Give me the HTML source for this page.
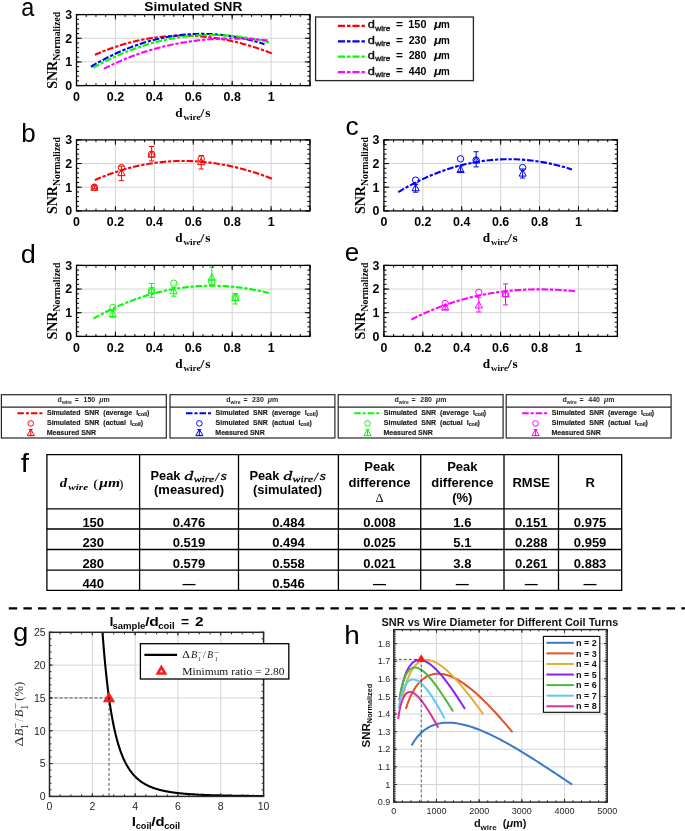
<!DOCTYPE html>
<html><head><meta charset="utf-8"><style>
html,body{margin:0;padding:0;background:#fff;width:685px;height:831px;overflow:hidden;position:relative;font-family:"Liberation Sans",sans-serif}
svg{filter:blur(0.3px)}
</style></head><body>
<svg width="685" height="831" viewBox="0 0 685 831" style="position:absolute;left:0;top:0">
<line x1="115.42" y1="14.6" x2="115.42" y2="85.6" stroke="#d4d4d4" stroke-width="1"/>
<line x1="154.33" y1="14.6" x2="154.33" y2="85.6" stroke="#d4d4d4" stroke-width="1"/>
<line x1="193.25" y1="14.6" x2="193.25" y2="85.6" stroke="#d4d4d4" stroke-width="1"/>
<line x1="232.17" y1="14.6" x2="232.17" y2="85.6" stroke="#d4d4d4" stroke-width="1"/>
<line x1="271.08" y1="14.6" x2="271.08" y2="85.6" stroke="#d4d4d4" stroke-width="1"/>
<line x1="76.5" y1="61.93" x2="310" y2="61.93" stroke="#d4d4d4" stroke-width="1"/>
<line x1="76.5" y1="38.27" x2="310" y2="38.27" stroke="#d4d4d4" stroke-width="1"/>
<path d="M94.79 54.85 L97.82 53.53 L100.85 52.26 L103.88 51.04 L106.91 49.87 L109.95 48.75 L112.98 47.67 L116.01 46.64 L119.04 45.66 L122.07 44.72 L125.1 43.84 L128.13 43 L131.16 42.2 L134.19 41.45 L137.22 40.75 L140.25 40.1 L143.28 39.49 L146.32 38.92 L149.35 38.41 L152.38 37.93 L155.41 37.51 L158.44 37.12 L161.47 36.79 L164.5 36.49 L167.53 36.24 L170.56 36.04 L173.59 35.88 L176.62 35.76 L179.66 35.69 L182.69 35.66 L185.72 35.67 L188.75 35.73 L191.78 35.83 L194.81 35.97 L197.84 36.16 L200.87 36.38 L203.9 36.65 L206.93 36.96 L209.96 37.32 L213 37.71 L216.03 38.15 L219.06 38.62 L222.09 39.14 L225.12 39.7 L228.15 40.3 L231.18 40.94 L234.21 41.62 L237.24 42.34 L240.27 43.1 L243.3 43.9 L246.33 44.74 L249.37 45.62 L252.4 46.54 L255.43 47.49 L258.46 48.49 L261.49 49.52 L264.52 50.6 L267.55 51.71 L270.58 52.86 L273.61 54.04" fill="none" stroke="#ff0000" stroke-width="2.1" stroke-dasharray="6.6 1.8 3.3 1.8"/>
<path d="M90.9 66.74 L93.84 65 L96.78 63.3 L99.72 61.66 L102.67 60.06 L105.61 58.52 L108.55 57.02 L111.49 55.57 L114.43 54.16 L117.38 52.8 L120.32 51.5 L123.26 50.24 L126.2 49.02 L129.14 47.86 L132.08 46.74 L135.03 45.67 L137.97 44.64 L140.91 43.67 L143.85 42.74 L146.79 41.85 L149.74 41.02 L152.68 40.23 L155.62 39.49 L158.56 38.79 L161.5 38.14 L164.45 37.54 L167.39 36.98 L170.33 36.47 L173.27 36.01 L176.21 35.59 L179.15 35.22 L182.1 34.89 L185.04 34.62 L187.98 34.38 L190.92 34.19 L193.86 34.05 L196.81 33.96 L199.75 33.9 L202.69 33.9 L205.63 33.94 L208.57 34.02 L211.51 34.15 L214.46 34.33 L217.4 34.55 L220.34 34.82 L223.28 35.13 L226.22 35.48 L229.17 35.88 L232.11 36.33 L235.05 36.82 L237.99 37.35 L240.93 37.93 L243.87 38.55 L246.82 39.22 L249.76 39.93 L252.7 40.68 L255.64 41.48 L258.58 42.32 L261.53 43.21 L264.47 44.14" fill="none" stroke="#0000ff" stroke-width="2.1" stroke-dasharray="6.6 1.8 3.3 1.8"/>
<path d="M93.43 67.81 L96.42 66.14 L99.4 64.51 L102.39 62.94 L105.38 61.4 L108.37 59.91 L111.36 58.47 L114.34 57.07 L117.33 55.71 L120.32 54.4 L123.31 53.13 L126.3 51.9 L129.28 50.72 L132.27 49.59 L135.26 48.49 L138.25 47.44 L141.24 46.43 L144.22 45.47 L147.21 44.55 L150.2 43.67 L153.19 42.83 L156.18 42.04 L159.16 41.29 L162.15 40.58 L165.14 39.92 L168.13 39.29 L171.12 38.71 L174.1 38.17 L177.09 37.68 L180.08 37.22 L183.07 36.81 L186.06 36.44 L189.05 36.1 L192.03 35.82 L195.02 35.57 L198.01 35.36 L201 35.2 L203.99 35.07 L206.97 34.99 L209.96 34.94 L212.95 34.94 L215.94 34.98 L218.93 35.06 L221.91 35.18 L224.9 35.33 L227.89 35.53 L230.88 35.77 L233.87 36.05 L236.85 36.37 L239.84 36.73 L242.83 37.12 L245.82 37.56 L248.81 38.04 L251.79 38.55 L254.78 39.11 L257.77 39.7 L260.76 40.33 L263.75 41 L266.73 41.71 L269.72 42.46" fill="none" stroke="#00ff00" stroke-width="2.1" stroke-dasharray="6.6 1.8 3.3 1.8"/>
<path d="M103.94 68.77 L106.74 67.36 L109.54 65.99 L112.34 64.65 L115.14 63.35 L117.94 62.09 L120.74 60.87 L123.54 59.68 L126.34 58.53 L129.14 57.42 L131.94 56.34 L134.74 55.29 L137.54 54.28 L140.34 53.31 L143.14 52.37 L145.94 51.47 L148.74 50.59 L151.54 49.76 L154.34 48.95 L157.14 48.18 L159.94 47.44 L162.74 46.73 L165.54 46.05 L168.34 45.41 L171.14 44.8 L173.94 44.21 L176.74 43.66 L179.54 43.14 L182.34 42.65 L185.14 42.19 L187.94 41.76 L190.74 41.35 L193.54 40.98 L196.34 40.63 L199.14 40.31 L201.94 40.02 L204.74 39.76 L207.54 39.52 L210.34 39.31 L213.14 39.13 L215.94 38.98 L218.74 38.84 L221.54 38.74 L224.34 38.66 L227.14 38.6 L229.94 38.57 L232.74 38.57 L235.54 38.58 L238.34 38.63 L241.14 38.69 L243.94 38.78 L246.74 38.89 L249.54 39.02 L252.34 39.17 L255.14 39.35 L257.94 39.55 L260.74 39.77 L263.54 40.01 L266.34 40.27 L269.14 40.55" fill="none" stroke="#ff00ff" stroke-width="2.1" stroke-dasharray="6.6 1.8 3.3 1.8"/>
<path d="M76.5 85.6v-2.3 M76.5 14.6v2.3 M86.23 85.6v-2.3 M86.23 14.6v2.3 M95.96 85.6v-2.3 M95.96 14.6v2.3 M105.69 85.6v-2.3 M105.69 14.6v2.3 M115.42 85.6v-2.3 M115.42 14.6v2.3 M125.15 85.6v-2.3 M125.15 14.6v2.3 M134.88 85.6v-2.3 M134.88 14.6v2.3 M144.6 85.6v-2.3 M144.6 14.6v2.3 M154.33 85.6v-2.3 M154.33 14.6v2.3 M164.06 85.6v-2.3 M164.06 14.6v2.3 M173.79 85.6v-2.3 M173.79 14.6v2.3 M183.52 85.6v-2.3 M183.52 14.6v2.3 M193.25 85.6v-2.3 M193.25 14.6v2.3 M202.98 85.6v-2.3 M202.98 14.6v2.3 M212.71 85.6v-2.3 M212.71 14.6v2.3 M222.44 85.6v-2.3 M222.44 14.6v2.3 M232.17 85.6v-2.3 M232.17 14.6v2.3 M241.9 85.6v-2.3 M241.9 14.6v2.3 M251.62 85.6v-2.3 M251.62 14.6v2.3 M261.35 85.6v-2.3 M261.35 14.6v2.3 M271.08 85.6v-2.3 M271.08 14.6v2.3 M280.81 85.6v-2.3 M280.81 14.6v2.3 M290.54 85.6v-2.3 M290.54 14.6v2.3 M300.27 85.6v-2.3 M300.27 14.6v2.3 M310 85.6v-2.3 M310 14.6v2.3 M76.5 85.6v-4.8 M76.5 14.6v4.8 M115.42 85.6v-4.8 M115.42 14.6v4.8 M154.33 85.6v-4.8 M154.33 14.6v4.8 M193.25 85.6v-4.8 M193.25 14.6v4.8 M232.17 85.6v-4.8 M232.17 14.6v4.8 M271.08 85.6v-4.8 M271.08 14.6v4.8 M310 85.6v-4.8 M310 14.6v4.8 M76.5 85.6h2.6 M310 85.6h-2.6 M76.5 80.87h2.6 M310 80.87h-2.6 M76.5 76.13h2.6 M310 76.13h-2.6 M76.5 71.4h2.6 M310 71.4h-2.6 M76.5 66.67h2.6 M310 66.67h-2.6 M76.5 61.93h2.6 M310 61.93h-2.6 M76.5 57.2h2.6 M310 57.2h-2.6 M76.5 52.47h2.6 M310 52.47h-2.6 M76.5 47.73h2.6 M310 47.73h-2.6 M76.5 43h2.6 M310 43h-2.6 M76.5 38.27h2.6 M310 38.27h-2.6 M76.5 33.53h2.6 M310 33.53h-2.6 M76.5 28.8h2.6 M310 28.8h-2.6 M76.5 24.07h2.6 M310 24.07h-2.6 M76.5 19.33h2.6 M310 19.33h-2.6 M76.5 14.6h2.6 M310 14.6h-2.6 M76.5 85.6h5.2 M310 85.6h-5.2 M76.5 61.93h5.2 M310 61.93h-5.2 M76.5 38.27h5.2 M310 38.27h-5.2 M76.5 14.6h5.2 M310 14.6h-5.2" stroke="#000" stroke-width="1" fill="none"/>
<rect x="76.5" y="14.6" width="233.5" height="71" fill="none" stroke="#000" stroke-width="1.3"/>
<text x="76.5" y="101" font-size="12.4" font-weight="bold" text-anchor="middle" font-family='"Liberation Sans", sans-serif'>0</text>
<text x="115.42" y="101" font-size="12.4" font-weight="bold" text-anchor="middle" font-family='"Liberation Sans", sans-serif'>0.2</text>
<text x="154.33" y="101" font-size="12.4" font-weight="bold" text-anchor="middle" font-family='"Liberation Sans", sans-serif'>0.4</text>
<text x="193.25" y="101" font-size="12.4" font-weight="bold" text-anchor="middle" font-family='"Liberation Sans", sans-serif'>0.6</text>
<text x="232.17" y="101" font-size="12.4" font-weight="bold" text-anchor="middle" font-family='"Liberation Sans", sans-serif'>0.8</text>
<text x="271.08" y="101" font-size="12.4" font-weight="bold" text-anchor="middle" font-family='"Liberation Sans", sans-serif'>1</text>
<text x="72.05" y="90" font-size="12.4" font-weight="bold" text-anchor="end" font-family='"Liberation Sans", sans-serif'>0</text>
<text x="72.05" y="66.33" font-size="12.4" font-weight="bold" text-anchor="end" font-family='"Liberation Sans", sans-serif'>1</text>
<text x="72.05" y="42.67" font-size="12.4" font-weight="bold" text-anchor="end" font-family='"Liberation Sans", sans-serif'>2</text>
<text x="72.05" y="19" font-size="12.4" font-weight="bold" text-anchor="end" font-family='"Liberation Sans", sans-serif'>3</text>
<text transform="translate(175.37 117) scale(1.050 1)" font-size="12.6" font-weight="bold" font-family='"Liberation Serif", serif'>d</text>
<text transform="translate(183.48 119.7) scale(0.992 1)" font-size="9.2" font-weight="bold" font-family='"Liberation Serif", serif'>wire</text>
<text transform="translate(200.35 117) scale(1.174 1)" font-size="12.6" font-weight="bold" font-family='"Liberation Serif", serif'>/</text>
<text transform="translate(205.2 117) scale(1.066 1)" font-size="12.6" font-weight="bold" font-family='"Liberation Serif", serif'>s</text>
<text transform="translate(57.2 50.3) rotate(-90)" font-size="14" font-weight="bold" text-anchor="middle" font-family='"Liberation Serif", serif'>SNR<tspan font-size="9.8" dy="3">Normalized</tspan></text>
<text transform="translate(144.29 10.9) scale(1.006 1)" font-size="13.6" font-weight="bold" font-family='"Liberation Sans", sans-serif'>Simulated SNR</text>
<rect x="315.6" y="17" width="157.8" height="63.6" fill="#fff" stroke="#262626" stroke-width="1.3"/>
<line x1="337.9" y1="25.9" x2="364.9" y2="25.9" stroke="#ff0000" stroke-width="2.2" stroke-dasharray="7.2 1.9 3.5 1.9"/>
<g stroke="#111" stroke-width="0.35">
<text transform="translate(367.75 28.4) scale(1.289 1)" font-size="10" fill="#111" font-family='"Liberation Sans", sans-serif'>d</text>
<text transform="translate(375.3 30.5) scale(1.046 1)" font-size="7.8" fill="#111" font-family='"Liberation Sans", sans-serif'>wire</text>
</g>
<text transform="translate(395.9 28.1) scale(1.073 1)" font-size="11" font-weight="bold" font-family='"Liberation Sans", sans-serif'>=</text>
<text transform="translate(408.32 28.4) scale(0.997 1)" font-size="10.9" font-weight="bold" font-family='"Liberation Sans", sans-serif'>150</text>
<text transform="translate(433.88 28.4) scale(1.149 1)" font-size="10.8" font-weight="bold" font-style="italic" font-family='"Liberation Sans", sans-serif'>μ</text>
<text transform="translate(440.96 28.4) scale(0.911 1)" font-size="10.8" font-weight="bold" font-family='"Liberation Sans", sans-serif'>m</text>
<line x1="337.9" y1="41.3" x2="364.9" y2="41.3" stroke="#0000ff" stroke-width="2.2" stroke-dasharray="7.2 1.9 3.5 1.9"/>
<g stroke="#111" stroke-width="0.35">
<text transform="translate(367.75 43.8) scale(1.289 1)" font-size="10" fill="#111" font-family='"Liberation Sans", sans-serif'>d</text>
<text transform="translate(375.3 45.9) scale(1.046 1)" font-size="7.8" fill="#111" font-family='"Liberation Sans", sans-serif'>wire</text>
</g>
<text transform="translate(395.9 43.5) scale(1.073 1)" font-size="11" font-weight="bold" font-family='"Liberation Sans", sans-serif'>=</text>
<text transform="translate(408.63 43.8) scale(0.979 1)" font-size="10.9" font-weight="bold" font-family='"Liberation Sans", sans-serif'>230</text>
<text transform="translate(433.88 43.8) scale(1.149 1)" font-size="10.8" font-weight="bold" font-style="italic" font-family='"Liberation Sans", sans-serif'>μ</text>
<text transform="translate(440.96 43.8) scale(0.911 1)" font-size="10.8" font-weight="bold" font-family='"Liberation Sans", sans-serif'>m</text>
<line x1="337.9" y1="56.7" x2="364.9" y2="56.7" stroke="#00ff00" stroke-width="2.2" stroke-dasharray="7.2 1.9 3.5 1.9"/>
<g stroke="#111" stroke-width="0.35">
<text transform="translate(367.75 59.2) scale(1.289 1)" font-size="10" fill="#111" font-family='"Liberation Sans", sans-serif'>d</text>
<text transform="translate(375.3 61.3) scale(1.046 1)" font-size="7.8" fill="#111" font-family='"Liberation Sans", sans-serif'>wire</text>
</g>
<text transform="translate(395.9 58.9) scale(1.073 1)" font-size="11" font-weight="bold" font-family='"Liberation Sans", sans-serif'>=</text>
<text transform="translate(408.63 59.2) scale(0.979 1)" font-size="10.9" font-weight="bold" font-family='"Liberation Sans", sans-serif'>280</text>
<text transform="translate(433.88 59.2) scale(1.149 1)" font-size="10.8" font-weight="bold" font-style="italic" font-family='"Liberation Sans", sans-serif'>μ</text>
<text transform="translate(440.96 59.2) scale(0.911 1)" font-size="10.8" font-weight="bold" font-family='"Liberation Sans", sans-serif'>m</text>
<line x1="337.9" y1="72.1" x2="364.9" y2="72.1" stroke="#ff00ff" stroke-width="2.2" stroke-dasharray="7.2 1.9 3.5 1.9"/>
<g stroke="#111" stroke-width="0.35">
<text transform="translate(367.75 74.6) scale(1.289 1)" font-size="10" fill="#111" font-family='"Liberation Sans", sans-serif'>d</text>
<text transform="translate(375.3 76.7) scale(1.046 1)" font-size="7.8" fill="#111" font-family='"Liberation Sans", sans-serif'>wire</text>
</g>
<text transform="translate(395.9 74.3) scale(1.073 1)" font-size="11" font-weight="bold" font-family='"Liberation Sans", sans-serif'>=</text>
<text transform="translate(408.84 74.6) scale(0.967 1)" font-size="10.9" font-weight="bold" font-family='"Liberation Sans", sans-serif'>440</text>
<text transform="translate(433.88 74.6) scale(1.149 1)" font-size="10.8" font-weight="bold" font-style="italic" font-family='"Liberation Sans", sans-serif'>μ</text>
<text transform="translate(440.96 74.6) scale(0.911 1)" font-size="10.8" font-weight="bold" font-family='"Liberation Sans", sans-serif'>m</text>
<line x1="115.42" y1="139.9" x2="115.42" y2="210.9" stroke="#d4d4d4" stroke-width="1"/>
<line x1="154.33" y1="139.9" x2="154.33" y2="210.9" stroke="#d4d4d4" stroke-width="1"/>
<line x1="193.25" y1="139.9" x2="193.25" y2="210.9" stroke="#d4d4d4" stroke-width="1"/>
<line x1="232.17" y1="139.9" x2="232.17" y2="210.9" stroke="#d4d4d4" stroke-width="1"/>
<line x1="271.08" y1="139.9" x2="271.08" y2="210.9" stroke="#d4d4d4" stroke-width="1"/>
<line x1="76.5" y1="187.23" x2="310" y2="187.23" stroke="#d4d4d4" stroke-width="1"/>
<line x1="76.5" y1="163.57" x2="310" y2="163.57" stroke="#d4d4d4" stroke-width="1"/>
<path d="M94.79 180.15 L97.82 178.83 L100.85 177.56 L103.88 176.34 L106.91 175.17 L109.95 174.05 L112.98 172.97 L116.01 171.94 L119.04 170.96 L122.07 170.02 L125.1 169.14 L128.13 168.3 L131.16 167.5 L134.19 166.75 L137.22 166.05 L140.25 165.4 L143.28 164.79 L146.32 164.22 L149.35 163.71 L152.38 163.23 L155.41 162.81 L158.44 162.42 L161.47 162.09 L164.5 161.79 L167.53 161.54 L170.56 161.34 L173.59 161.18 L176.62 161.06 L179.66 160.99 L182.69 160.96 L185.72 160.97 L188.75 161.03 L191.78 161.13 L194.81 161.27 L197.84 161.46 L200.87 161.68 L203.9 161.95 L206.93 162.26 L209.96 162.62 L213 163.01 L216.03 163.45 L219.06 163.92 L222.09 164.44 L225.12 165 L228.15 165.6 L231.18 166.24 L234.21 166.92 L237.24 167.64 L240.27 168.4 L243.3 169.2 L246.33 170.04 L249.37 170.92 L252.4 171.84 L255.43 172.79 L258.46 173.79 L261.49 174.82 L264.52 175.9 L267.55 177.01 L270.58 178.16 L273.61 179.34" fill="none" stroke="#ff0000" stroke-width="2.1" stroke-dasharray="6.6 1.8 3.3 1.8"/>
<path d="M94.4 185.81V188.65 M91.8 185.81h5.2 M91.8 188.65h5.2" stroke="#ff0000" stroke-width="1" fill="none"/>
<circle cx="94.4" cy="187.23" r="3.2" fill="none" stroke="#ff0000" stroke-width="1"/>
<path d="M94.4 183.81 L90.8 190.29 L98 190.29 Z" fill="none" stroke="#ff0000" stroke-width="1"/>
<path d="M121.45 166.17V180.61 M118.85 166.17h5.2 M118.85 180.61h5.2" stroke="#ff0000" stroke-width="1" fill="none"/>
<circle cx="121.45" cy="167.59" r="3.2" fill="none" stroke="#ff0000" stroke-width="1"/>
<path d="M121.45 169.14 L117.85 175.62 L125.05 175.62 Z" fill="none" stroke="#ff0000" stroke-width="1"/>
<path d="M151.61 146.53V160.96 M149.01 146.53h5.2 M149.01 160.96h5.2" stroke="#ff0000" stroke-width="1" fill="none"/>
<circle cx="151.61" cy="154.1" r="3.2" fill="none" stroke="#ff0000" stroke-width="1"/>
<path d="M151.61 150.68 L148.01 157.16 L155.21 157.16 Z" fill="none" stroke="#ff0000" stroke-width="1"/>
<path d="M201.23 155.52V169.01 M198.63 155.52h5.2 M198.63 169.01h5.2" stroke="#ff0000" stroke-width="1" fill="none"/>
<circle cx="201.23" cy="158.83" r="3.2" fill="none" stroke="#ff0000" stroke-width="1"/>
<path d="M201.23 158.25 L197.63 164.73 L204.83 164.73 Z" fill="none" stroke="#ff0000" stroke-width="1"/>
<path d="M76.5 210.9v-2.3 M76.5 139.9v2.3 M86.23 210.9v-2.3 M86.23 139.9v2.3 M95.96 210.9v-2.3 M95.96 139.9v2.3 M105.69 210.9v-2.3 M105.69 139.9v2.3 M115.42 210.9v-2.3 M115.42 139.9v2.3 M125.15 210.9v-2.3 M125.15 139.9v2.3 M134.88 210.9v-2.3 M134.88 139.9v2.3 M144.6 210.9v-2.3 M144.6 139.9v2.3 M154.33 210.9v-2.3 M154.33 139.9v2.3 M164.06 210.9v-2.3 M164.06 139.9v2.3 M173.79 210.9v-2.3 M173.79 139.9v2.3 M183.52 210.9v-2.3 M183.52 139.9v2.3 M193.25 210.9v-2.3 M193.25 139.9v2.3 M202.98 210.9v-2.3 M202.98 139.9v2.3 M212.71 210.9v-2.3 M212.71 139.9v2.3 M222.44 210.9v-2.3 M222.44 139.9v2.3 M232.17 210.9v-2.3 M232.17 139.9v2.3 M241.9 210.9v-2.3 M241.9 139.9v2.3 M251.62 210.9v-2.3 M251.62 139.9v2.3 M261.35 210.9v-2.3 M261.35 139.9v2.3 M271.08 210.9v-2.3 M271.08 139.9v2.3 M280.81 210.9v-2.3 M280.81 139.9v2.3 M290.54 210.9v-2.3 M290.54 139.9v2.3 M300.27 210.9v-2.3 M300.27 139.9v2.3 M310 210.9v-2.3 M310 139.9v2.3 M76.5 210.9v-4.8 M76.5 139.9v4.8 M115.42 210.9v-4.8 M115.42 139.9v4.8 M154.33 210.9v-4.8 M154.33 139.9v4.8 M193.25 210.9v-4.8 M193.25 139.9v4.8 M232.17 210.9v-4.8 M232.17 139.9v4.8 M271.08 210.9v-4.8 M271.08 139.9v4.8 M310 210.9v-4.8 M310 139.9v4.8 M76.5 210.9h2.6 M310 210.9h-2.6 M76.5 206.17h2.6 M310 206.17h-2.6 M76.5 201.43h2.6 M310 201.43h-2.6 M76.5 196.7h2.6 M310 196.7h-2.6 M76.5 191.97h2.6 M310 191.97h-2.6 M76.5 187.23h2.6 M310 187.23h-2.6 M76.5 182.5h2.6 M310 182.5h-2.6 M76.5 177.77h2.6 M310 177.77h-2.6 M76.5 173.03h2.6 M310 173.03h-2.6 M76.5 168.3h2.6 M310 168.3h-2.6 M76.5 163.57h2.6 M310 163.57h-2.6 M76.5 158.83h2.6 M310 158.83h-2.6 M76.5 154.1h2.6 M310 154.1h-2.6 M76.5 149.37h2.6 M310 149.37h-2.6 M76.5 144.63h2.6 M310 144.63h-2.6 M76.5 139.9h2.6 M310 139.9h-2.6 M76.5 210.9h5.2 M310 210.9h-5.2 M76.5 187.23h5.2 M310 187.23h-5.2 M76.5 163.57h5.2 M310 163.57h-5.2 M76.5 139.9h5.2 M310 139.9h-5.2" stroke="#000" stroke-width="1" fill="none"/>
<rect x="76.5" y="139.9" width="233.5" height="71" fill="none" stroke="#000" stroke-width="1.3"/>
<text x="76.5" y="226.3" font-size="12.4" font-weight="bold" text-anchor="middle" font-family='"Liberation Sans", sans-serif'>0</text>
<text x="115.42" y="226.3" font-size="12.4" font-weight="bold" text-anchor="middle" font-family='"Liberation Sans", sans-serif'>0.2</text>
<text x="154.33" y="226.3" font-size="12.4" font-weight="bold" text-anchor="middle" font-family='"Liberation Sans", sans-serif'>0.4</text>
<text x="193.25" y="226.3" font-size="12.4" font-weight="bold" text-anchor="middle" font-family='"Liberation Sans", sans-serif'>0.6</text>
<text x="232.17" y="226.3" font-size="12.4" font-weight="bold" text-anchor="middle" font-family='"Liberation Sans", sans-serif'>0.8</text>
<text x="271.08" y="226.3" font-size="12.4" font-weight="bold" text-anchor="middle" font-family='"Liberation Sans", sans-serif'>1</text>
<text x="72.05" y="215.3" font-size="12.4" font-weight="bold" text-anchor="end" font-family='"Liberation Sans", sans-serif'>0</text>
<text x="72.05" y="191.63" font-size="12.4" font-weight="bold" text-anchor="end" font-family='"Liberation Sans", sans-serif'>1</text>
<text x="72.05" y="167.97" font-size="12.4" font-weight="bold" text-anchor="end" font-family='"Liberation Sans", sans-serif'>2</text>
<text x="72.05" y="144.3" font-size="12.4" font-weight="bold" text-anchor="end" font-family='"Liberation Sans", sans-serif'>3</text>
<text transform="translate(175.37 242.3) scale(1.050 1)" font-size="12.6" font-weight="bold" font-family='"Liberation Serif", serif'>d</text>
<text transform="translate(183.48 245) scale(0.992 1)" font-size="9.2" font-weight="bold" font-family='"Liberation Serif", serif'>wire</text>
<text transform="translate(200.35 242.3) scale(1.174 1)" font-size="12.6" font-weight="bold" font-family='"Liberation Serif", serif'>/</text>
<text transform="translate(205.2 242.3) scale(1.066 1)" font-size="12.6" font-weight="bold" font-family='"Liberation Serif", serif'>s</text>
<text transform="translate(57.2 175.6) rotate(-90)" font-size="14" font-weight="bold" text-anchor="middle" font-family='"Liberation Serif", serif'>SNR<tspan font-size="9.8" dy="3">Normalized</tspan></text>
<line x1="422.82" y1="139.9" x2="422.82" y2="210.9" stroke="#d4d4d4" stroke-width="1"/>
<line x1="461.73" y1="139.9" x2="461.73" y2="210.9" stroke="#d4d4d4" stroke-width="1"/>
<line x1="500.65" y1="139.9" x2="500.65" y2="210.9" stroke="#d4d4d4" stroke-width="1"/>
<line x1="539.57" y1="139.9" x2="539.57" y2="210.9" stroke="#d4d4d4" stroke-width="1"/>
<line x1="578.48" y1="139.9" x2="578.48" y2="210.9" stroke="#d4d4d4" stroke-width="1"/>
<line x1="383.9" y1="187.23" x2="617.4" y2="187.23" stroke="#d4d4d4" stroke-width="1"/>
<line x1="383.9" y1="163.57" x2="617.4" y2="163.57" stroke="#d4d4d4" stroke-width="1"/>
<path d="M398.3 192.04 L401.24 190.3 L404.18 188.6 L407.12 186.96 L410.07 185.36 L413.01 183.82 L415.95 182.32 L418.89 180.87 L421.83 179.46 L424.78 178.1 L427.72 176.8 L430.66 175.54 L433.6 174.32 L436.54 173.16 L439.48 172.04 L442.43 170.97 L445.37 169.94 L448.31 168.97 L451.25 168.04 L454.19 167.15 L457.14 166.32 L460.08 165.53 L463.02 164.79 L465.96 164.09 L468.9 163.44 L471.85 162.84 L474.79 162.28 L477.73 161.77 L480.67 161.31 L483.61 160.89 L486.55 160.52 L489.5 160.19 L492.44 159.92 L495.38 159.68 L498.32 159.49 L501.26 159.35 L504.21 159.26 L507.15 159.2 L510.09 159.2 L513.03 159.24 L515.97 159.32 L518.91 159.45 L521.86 159.63 L524.8 159.85 L527.74 160.12 L530.68 160.43 L533.62 160.78 L536.57 161.18 L539.51 161.63 L542.45 162.12 L545.39 162.65 L548.33 163.23 L551.27 163.85 L554.22 164.52 L557.16 165.23 L560.1 165.98 L563.04 166.78 L565.98 167.62 L568.93 168.51 L571.87 169.44" fill="none" stroke="#0000ff" stroke-width="2.1" stroke-dasharray="6.6 1.8 3.3 1.8"/>
<path d="M415.62 184.39V192.2 M413.02 184.39h5.2 M413.02 192.2h5.2" stroke="#0000ff" stroke-width="1" fill="none"/>
<circle cx="415.62" cy="180.13" r="3.2" fill="none" stroke="#0000ff" stroke-width="1"/>
<path d="M415.62 184.29 L412.02 190.77 L419.22 190.77 Z" fill="none" stroke="#0000ff" stroke-width="1"/>
<path d="M460.57 165.93V171.61 M457.97 165.93h5.2 M457.97 171.61h5.2" stroke="#0000ff" stroke-width="1" fill="none"/>
<circle cx="460.57" cy="158.83" r="3.2" fill="none" stroke="#0000ff" stroke-width="1"/>
<path d="M460.57 166.06 L456.97 172.54 L464.17 172.54 Z" fill="none" stroke="#0000ff" stroke-width="1"/>
<path d="M476.13 151.73V166.88 M473.53 151.73h5.2 M473.53 166.88h5.2" stroke="#0000ff" stroke-width="1" fill="none"/>
<circle cx="476.13" cy="160.02" r="3.2" fill="none" stroke="#0000ff" stroke-width="1"/>
<path d="M476.13 156.6 L472.53 163.08 L479.73 163.08 Z" fill="none" stroke="#0000ff" stroke-width="1"/>
<path d="M522.64 169.01V178 M520.04 169.01h5.2 M520.04 178h5.2" stroke="#0000ff" stroke-width="1" fill="none"/>
<circle cx="522.64" cy="167.59" r="3.2" fill="none" stroke="#0000ff" stroke-width="1"/>
<path d="M522.64 169.61 L519.04 176.09 L526.24 176.09 Z" fill="none" stroke="#0000ff" stroke-width="1"/>
<path d="M383.9 210.9v-2.3 M383.9 139.9v2.3 M393.63 210.9v-2.3 M393.63 139.9v2.3 M403.36 210.9v-2.3 M403.36 139.9v2.3 M413.09 210.9v-2.3 M413.09 139.9v2.3 M422.82 210.9v-2.3 M422.82 139.9v2.3 M432.55 210.9v-2.3 M432.55 139.9v2.3 M442.27 210.9v-2.3 M442.27 139.9v2.3 M452 210.9v-2.3 M452 139.9v2.3 M461.73 210.9v-2.3 M461.73 139.9v2.3 M471.46 210.9v-2.3 M471.46 139.9v2.3 M481.19 210.9v-2.3 M481.19 139.9v2.3 M490.92 210.9v-2.3 M490.92 139.9v2.3 M500.65 210.9v-2.3 M500.65 139.9v2.3 M510.38 210.9v-2.3 M510.38 139.9v2.3 M520.11 210.9v-2.3 M520.11 139.9v2.3 M529.84 210.9v-2.3 M529.84 139.9v2.3 M539.57 210.9v-2.3 M539.57 139.9v2.3 M549.3 210.9v-2.3 M549.3 139.9v2.3 M559.02 210.9v-2.3 M559.02 139.9v2.3 M568.75 210.9v-2.3 M568.75 139.9v2.3 M578.48 210.9v-2.3 M578.48 139.9v2.3 M588.21 210.9v-2.3 M588.21 139.9v2.3 M597.94 210.9v-2.3 M597.94 139.9v2.3 M607.67 210.9v-2.3 M607.67 139.9v2.3 M617.4 210.9v-2.3 M617.4 139.9v2.3 M383.9 210.9v-4.8 M383.9 139.9v4.8 M422.82 210.9v-4.8 M422.82 139.9v4.8 M461.73 210.9v-4.8 M461.73 139.9v4.8 M500.65 210.9v-4.8 M500.65 139.9v4.8 M539.57 210.9v-4.8 M539.57 139.9v4.8 M578.48 210.9v-4.8 M578.48 139.9v4.8 M617.4 210.9v-4.8 M617.4 139.9v4.8 M383.9 210.9h2.6 M617.4 210.9h-2.6 M383.9 206.17h2.6 M617.4 206.17h-2.6 M383.9 201.43h2.6 M617.4 201.43h-2.6 M383.9 196.7h2.6 M617.4 196.7h-2.6 M383.9 191.97h2.6 M617.4 191.97h-2.6 M383.9 187.23h2.6 M617.4 187.23h-2.6 M383.9 182.5h2.6 M617.4 182.5h-2.6 M383.9 177.77h2.6 M617.4 177.77h-2.6 M383.9 173.03h2.6 M617.4 173.03h-2.6 M383.9 168.3h2.6 M617.4 168.3h-2.6 M383.9 163.57h2.6 M617.4 163.57h-2.6 M383.9 158.83h2.6 M617.4 158.83h-2.6 M383.9 154.1h2.6 M617.4 154.1h-2.6 M383.9 149.37h2.6 M617.4 149.37h-2.6 M383.9 144.63h2.6 M617.4 144.63h-2.6 M383.9 139.9h2.6 M617.4 139.9h-2.6 M383.9 210.9h5.2 M617.4 210.9h-5.2 M383.9 187.23h5.2 M617.4 187.23h-5.2 M383.9 163.57h5.2 M617.4 163.57h-5.2 M383.9 139.9h5.2 M617.4 139.9h-5.2" stroke="#000" stroke-width="1" fill="none"/>
<rect x="383.9" y="139.9" width="233.5" height="71" fill="none" stroke="#000" stroke-width="1.3"/>
<text x="383.9" y="226.3" font-size="12.4" font-weight="bold" text-anchor="middle" font-family='"Liberation Sans", sans-serif'>0</text>
<text x="422.82" y="226.3" font-size="12.4" font-weight="bold" text-anchor="middle" font-family='"Liberation Sans", sans-serif'>0.2</text>
<text x="461.73" y="226.3" font-size="12.4" font-weight="bold" text-anchor="middle" font-family='"Liberation Sans", sans-serif'>0.4</text>
<text x="500.65" y="226.3" font-size="12.4" font-weight="bold" text-anchor="middle" font-family='"Liberation Sans", sans-serif'>0.6</text>
<text x="539.57" y="226.3" font-size="12.4" font-weight="bold" text-anchor="middle" font-family='"Liberation Sans", sans-serif'>0.8</text>
<text x="578.48" y="226.3" font-size="12.4" font-weight="bold" text-anchor="middle" font-family='"Liberation Sans", sans-serif'>1</text>
<text x="379.45" y="215.3" font-size="12.4" font-weight="bold" text-anchor="end" font-family='"Liberation Sans", sans-serif'>0</text>
<text x="379.45" y="191.63" font-size="12.4" font-weight="bold" text-anchor="end" font-family='"Liberation Sans", sans-serif'>1</text>
<text x="379.45" y="167.97" font-size="12.4" font-weight="bold" text-anchor="end" font-family='"Liberation Sans", sans-serif'>2</text>
<text x="379.45" y="144.3" font-size="12.4" font-weight="bold" text-anchor="end" font-family='"Liberation Sans", sans-serif'>3</text>
<text transform="translate(482.77 242.3) scale(1.050 1)" font-size="12.6" font-weight="bold" font-family='"Liberation Serif", serif'>d</text>
<text transform="translate(490.88 245) scale(0.992 1)" font-size="9.2" font-weight="bold" font-family='"Liberation Serif", serif'>wire</text>
<text transform="translate(507.75 242.3) scale(1.174 1)" font-size="12.6" font-weight="bold" font-family='"Liberation Serif", serif'>/</text>
<text transform="translate(512.6 242.3) scale(1.066 1)" font-size="12.6" font-weight="bold" font-family='"Liberation Serif", serif'>s</text>
<text transform="translate(364.6 175.6) rotate(-90)" font-size="14" font-weight="bold" text-anchor="middle" font-family='"Liberation Serif", serif'>SNR<tspan font-size="9.8" dy="3">Normalized</tspan></text>
<line x1="115.42" y1="265.4" x2="115.42" y2="336.4" stroke="#d4d4d4" stroke-width="1"/>
<line x1="154.33" y1="265.4" x2="154.33" y2="336.4" stroke="#d4d4d4" stroke-width="1"/>
<line x1="193.25" y1="265.4" x2="193.25" y2="336.4" stroke="#d4d4d4" stroke-width="1"/>
<line x1="232.17" y1="265.4" x2="232.17" y2="336.4" stroke="#d4d4d4" stroke-width="1"/>
<line x1="271.08" y1="265.4" x2="271.08" y2="336.4" stroke="#d4d4d4" stroke-width="1"/>
<line x1="76.5" y1="312.73" x2="310" y2="312.73" stroke="#d4d4d4" stroke-width="1"/>
<line x1="76.5" y1="289.07" x2="310" y2="289.07" stroke="#d4d4d4" stroke-width="1"/>
<path d="M93.43 318.61 L96.42 316.94 L99.4 315.31 L102.39 313.74 L105.38 312.2 L108.37 310.71 L111.36 309.27 L114.34 307.87 L117.33 306.51 L120.32 305.2 L123.31 303.93 L126.3 302.7 L129.28 301.52 L132.27 300.39 L135.26 299.29 L138.25 298.24 L141.24 297.23 L144.22 296.27 L147.21 295.35 L150.2 294.47 L153.19 293.63 L156.18 292.84 L159.16 292.09 L162.15 291.38 L165.14 290.72 L168.13 290.09 L171.12 289.51 L174.1 288.97 L177.09 288.48 L180.08 288.02 L183.07 287.61 L186.06 287.24 L189.05 286.9 L192.03 286.62 L195.02 286.37 L198.01 286.16 L201 286 L203.99 285.87 L206.97 285.79 L209.96 285.74 L212.95 285.74 L215.94 285.78 L218.93 285.86 L221.91 285.98 L224.9 286.13 L227.89 286.33 L230.88 286.57 L233.87 286.85 L236.85 287.17 L239.84 287.53 L242.83 287.92 L245.82 288.36 L248.81 288.84 L251.79 289.35 L254.78 289.91 L257.77 290.5 L260.76 291.13 L263.75 291.8 L266.73 292.51 L269.72 293.26" fill="none" stroke="#00ff00" stroke-width="2.1" stroke-dasharray="6.6 1.8 3.3 1.8"/>
<path d="M112.69 309.66V317.23 M110.09 309.66h5.2 M110.09 317.23h5.2" stroke="#00ff00" stroke-width="1" fill="none"/>
<circle cx="112.69" cy="307.53" r="3.2" fill="none" stroke="#00ff00" stroke-width="1"/>
<path d="M112.69 310.02 L109.09 316.5 L116.29 316.5 Z" fill="none" stroke="#00ff00" stroke-width="1"/>
<path d="M151.61 283.39V297.35 M149.01 283.39h5.2 M149.01 297.35h5.2" stroke="#00ff00" stroke-width="1" fill="none"/>
<circle cx="151.61" cy="290.25" r="3.2" fill="none" stroke="#00ff00" stroke-width="1"/>
<path d="M151.61 286.83 L148.01 293.31 L155.21 293.31 Z" fill="none" stroke="#00ff00" stroke-width="1"/>
<path d="M173.79 287.41V296.17 M171.19 287.41h5.2 M171.19 296.17h5.2" stroke="#00ff00" stroke-width="1" fill="none"/>
<circle cx="173.79" cy="283.15" r="3.2" fill="none" stroke="#00ff00" stroke-width="1"/>
<path d="M173.79 287.3 L170.19 293.78 L177.39 293.78 Z" fill="none" stroke="#00ff00" stroke-width="1"/>
<path d="M211.74 267.29V284.81 M209.14 267.29h5.2 M209.14 284.81h5.2" stroke="#00ff00" stroke-width="1" fill="none"/>
<circle cx="211.74" cy="281.97" r="3.2" fill="none" stroke="#00ff00" stroke-width="1"/>
<path d="M211.74 273.81 L208.14 280.29 L215.34 280.29 Z" fill="none" stroke="#00ff00" stroke-width="1"/>
<path d="M235.28 293.56V303.98 M232.68 293.56h5.2 M232.68 303.98h5.2" stroke="#00ff00" stroke-width="1" fill="none"/>
<circle cx="235.28" cy="297.35" r="3.2" fill="none" stroke="#00ff00" stroke-width="1"/>
<path d="M235.28 293.93 L231.68 300.41 L238.88 300.41 Z" fill="none" stroke="#00ff00" stroke-width="1"/>
<path d="M76.5 336.4v-2.3 M76.5 265.4v2.3 M86.23 336.4v-2.3 M86.23 265.4v2.3 M95.96 336.4v-2.3 M95.96 265.4v2.3 M105.69 336.4v-2.3 M105.69 265.4v2.3 M115.42 336.4v-2.3 M115.42 265.4v2.3 M125.15 336.4v-2.3 M125.15 265.4v2.3 M134.88 336.4v-2.3 M134.88 265.4v2.3 M144.6 336.4v-2.3 M144.6 265.4v2.3 M154.33 336.4v-2.3 M154.33 265.4v2.3 M164.06 336.4v-2.3 M164.06 265.4v2.3 M173.79 336.4v-2.3 M173.79 265.4v2.3 M183.52 336.4v-2.3 M183.52 265.4v2.3 M193.25 336.4v-2.3 M193.25 265.4v2.3 M202.98 336.4v-2.3 M202.98 265.4v2.3 M212.71 336.4v-2.3 M212.71 265.4v2.3 M222.44 336.4v-2.3 M222.44 265.4v2.3 M232.17 336.4v-2.3 M232.17 265.4v2.3 M241.9 336.4v-2.3 M241.9 265.4v2.3 M251.62 336.4v-2.3 M251.62 265.4v2.3 M261.35 336.4v-2.3 M261.35 265.4v2.3 M271.08 336.4v-2.3 M271.08 265.4v2.3 M280.81 336.4v-2.3 M280.81 265.4v2.3 M290.54 336.4v-2.3 M290.54 265.4v2.3 M300.27 336.4v-2.3 M300.27 265.4v2.3 M310 336.4v-2.3 M310 265.4v2.3 M76.5 336.4v-4.8 M76.5 265.4v4.8 M115.42 336.4v-4.8 M115.42 265.4v4.8 M154.33 336.4v-4.8 M154.33 265.4v4.8 M193.25 336.4v-4.8 M193.25 265.4v4.8 M232.17 336.4v-4.8 M232.17 265.4v4.8 M271.08 336.4v-4.8 M271.08 265.4v4.8 M310 336.4v-4.8 M310 265.4v4.8 M76.5 336.4h2.6 M310 336.4h-2.6 M76.5 331.67h2.6 M310 331.67h-2.6 M76.5 326.93h2.6 M310 326.93h-2.6 M76.5 322.2h2.6 M310 322.2h-2.6 M76.5 317.47h2.6 M310 317.47h-2.6 M76.5 312.73h2.6 M310 312.73h-2.6 M76.5 308h2.6 M310 308h-2.6 M76.5 303.27h2.6 M310 303.27h-2.6 M76.5 298.53h2.6 M310 298.53h-2.6 M76.5 293.8h2.6 M310 293.8h-2.6 M76.5 289.07h2.6 M310 289.07h-2.6 M76.5 284.33h2.6 M310 284.33h-2.6 M76.5 279.6h2.6 M310 279.6h-2.6 M76.5 274.87h2.6 M310 274.87h-2.6 M76.5 270.13h2.6 M310 270.13h-2.6 M76.5 265.4h2.6 M310 265.4h-2.6 M76.5 336.4h5.2 M310 336.4h-5.2 M76.5 312.73h5.2 M310 312.73h-5.2 M76.5 289.07h5.2 M310 289.07h-5.2 M76.5 265.4h5.2 M310 265.4h-5.2" stroke="#000" stroke-width="1" fill="none"/>
<rect x="76.5" y="265.4" width="233.5" height="71" fill="none" stroke="#000" stroke-width="1.3"/>
<text x="76.5" y="351.8" font-size="12.4" font-weight="bold" text-anchor="middle" font-family='"Liberation Sans", sans-serif'>0</text>
<text x="115.42" y="351.8" font-size="12.4" font-weight="bold" text-anchor="middle" font-family='"Liberation Sans", sans-serif'>0.2</text>
<text x="154.33" y="351.8" font-size="12.4" font-weight="bold" text-anchor="middle" font-family='"Liberation Sans", sans-serif'>0.4</text>
<text x="193.25" y="351.8" font-size="12.4" font-weight="bold" text-anchor="middle" font-family='"Liberation Sans", sans-serif'>0.6</text>
<text x="232.17" y="351.8" font-size="12.4" font-weight="bold" text-anchor="middle" font-family='"Liberation Sans", sans-serif'>0.8</text>
<text x="271.08" y="351.8" font-size="12.4" font-weight="bold" text-anchor="middle" font-family='"Liberation Sans", sans-serif'>1</text>
<text x="72.05" y="340.8" font-size="12.4" font-weight="bold" text-anchor="end" font-family='"Liberation Sans", sans-serif'>0</text>
<text x="72.05" y="317.13" font-size="12.4" font-weight="bold" text-anchor="end" font-family='"Liberation Sans", sans-serif'>1</text>
<text x="72.05" y="293.47" font-size="12.4" font-weight="bold" text-anchor="end" font-family='"Liberation Sans", sans-serif'>2</text>
<text x="72.05" y="269.8" font-size="12.4" font-weight="bold" text-anchor="end" font-family='"Liberation Sans", sans-serif'>3</text>
<text transform="translate(175.37 367.8) scale(1.050 1)" font-size="12.6" font-weight="bold" font-family='"Liberation Serif", serif'>d</text>
<text transform="translate(183.48 370.5) scale(0.992 1)" font-size="9.2" font-weight="bold" font-family='"Liberation Serif", serif'>wire</text>
<text transform="translate(200.35 367.8) scale(1.174 1)" font-size="12.6" font-weight="bold" font-family='"Liberation Serif", serif'>/</text>
<text transform="translate(205.2 367.8) scale(1.066 1)" font-size="12.6" font-weight="bold" font-family='"Liberation Serif", serif'>s</text>
<text transform="translate(57.2 301.1) rotate(-90)" font-size="14" font-weight="bold" text-anchor="middle" font-family='"Liberation Serif", serif'>SNR<tspan font-size="9.8" dy="3">Normalized</tspan></text>
<line x1="422.82" y1="265.4" x2="422.82" y2="336.4" stroke="#d4d4d4" stroke-width="1"/>
<line x1="461.73" y1="265.4" x2="461.73" y2="336.4" stroke="#d4d4d4" stroke-width="1"/>
<line x1="500.65" y1="265.4" x2="500.65" y2="336.4" stroke="#d4d4d4" stroke-width="1"/>
<line x1="539.57" y1="265.4" x2="539.57" y2="336.4" stroke="#d4d4d4" stroke-width="1"/>
<line x1="578.48" y1="265.4" x2="578.48" y2="336.4" stroke="#d4d4d4" stroke-width="1"/>
<line x1="383.9" y1="312.73" x2="617.4" y2="312.73" stroke="#d4d4d4" stroke-width="1"/>
<line x1="383.9" y1="289.07" x2="617.4" y2="289.07" stroke="#d4d4d4" stroke-width="1"/>
<path d="M411.34 319.57 L414.14 318.16 L416.94 316.79 L419.74 315.45 L422.54 314.15 L425.34 312.89 L428.14 311.67 L430.94 310.48 L433.74 309.33 L436.54 308.22 L439.34 307.14 L442.14 306.09 L444.94 305.08 L447.74 304.11 L450.54 303.17 L453.34 302.27 L456.14 301.39 L458.94 300.56 L461.74 299.75 L464.54 298.98 L467.34 298.24 L470.14 297.53 L472.94 296.85 L475.74 296.21 L478.54 295.6 L481.34 295.01 L484.14 294.46 L486.94 293.94 L489.74 293.45 L492.54 292.99 L495.34 292.56 L498.14 292.15 L500.94 291.78 L503.74 291.43 L506.54 291.11 L509.34 290.82 L512.14 290.56 L514.94 290.32 L517.74 290.11 L520.54 289.93 L523.34 289.78 L526.14 289.64 L528.94 289.54 L531.74 289.46 L534.54 289.4 L537.34 289.37 L540.14 289.37 L542.94 289.38 L545.74 289.43 L548.54 289.49 L551.34 289.58 L554.14 289.69 L556.94 289.82 L559.74 289.97 L562.54 290.15 L565.34 290.35 L568.14 290.57 L570.94 290.81 L573.74 291.07 L576.54 291.35" fill="none" stroke="#ff00ff" stroke-width="2.1" stroke-dasharray="6.6 1.8 3.3 1.8"/>
<path d="M445.19 305.4V309.66 M442.59 305.4h5.2 M442.59 309.66h5.2" stroke="#ff00ff" stroke-width="1" fill="none"/>
<circle cx="445.19" cy="303.5" r="3.2" fill="none" stroke="#ff00ff" stroke-width="1"/>
<path d="M445.19 303.63 L441.59 310.11 L448.79 310.11 Z" fill="none" stroke="#ff00ff" stroke-width="1"/>
<path d="M478.86 297.35V312.02 M476.26 297.35h5.2 M476.26 312.02h5.2" stroke="#ff00ff" stroke-width="1" fill="none"/>
<circle cx="478.86" cy="292.38" r="3.2" fill="none" stroke="#ff00ff" stroke-width="1"/>
<path d="M478.86 301.5 L475.26 307.98 L482.46 307.98 Z" fill="none" stroke="#ff00ff" stroke-width="1"/>
<path d="M505.51 283.86V304.92 M502.91 283.86h5.2 M502.91 304.92h5.2" stroke="#ff00ff" stroke-width="1" fill="none"/>
<circle cx="505.51" cy="293.8" r="3.2" fill="none" stroke="#ff00ff" stroke-width="1"/>
<path d="M505.51 290.38 L501.91 296.86 L509.11 296.86 Z" fill="none" stroke="#ff00ff" stroke-width="1"/>
<path d="M383.9 336.4v-2.3 M383.9 265.4v2.3 M393.63 336.4v-2.3 M393.63 265.4v2.3 M403.36 336.4v-2.3 M403.36 265.4v2.3 M413.09 336.4v-2.3 M413.09 265.4v2.3 M422.82 336.4v-2.3 M422.82 265.4v2.3 M432.55 336.4v-2.3 M432.55 265.4v2.3 M442.27 336.4v-2.3 M442.27 265.4v2.3 M452 336.4v-2.3 M452 265.4v2.3 M461.73 336.4v-2.3 M461.73 265.4v2.3 M471.46 336.4v-2.3 M471.46 265.4v2.3 M481.19 336.4v-2.3 M481.19 265.4v2.3 M490.92 336.4v-2.3 M490.92 265.4v2.3 M500.65 336.4v-2.3 M500.65 265.4v2.3 M510.38 336.4v-2.3 M510.38 265.4v2.3 M520.11 336.4v-2.3 M520.11 265.4v2.3 M529.84 336.4v-2.3 M529.84 265.4v2.3 M539.57 336.4v-2.3 M539.57 265.4v2.3 M549.3 336.4v-2.3 M549.3 265.4v2.3 M559.02 336.4v-2.3 M559.02 265.4v2.3 M568.75 336.4v-2.3 M568.75 265.4v2.3 M578.48 336.4v-2.3 M578.48 265.4v2.3 M588.21 336.4v-2.3 M588.21 265.4v2.3 M597.94 336.4v-2.3 M597.94 265.4v2.3 M607.67 336.4v-2.3 M607.67 265.4v2.3 M617.4 336.4v-2.3 M617.4 265.4v2.3 M383.9 336.4v-4.8 M383.9 265.4v4.8 M422.82 336.4v-4.8 M422.82 265.4v4.8 M461.73 336.4v-4.8 M461.73 265.4v4.8 M500.65 336.4v-4.8 M500.65 265.4v4.8 M539.57 336.4v-4.8 M539.57 265.4v4.8 M578.48 336.4v-4.8 M578.48 265.4v4.8 M617.4 336.4v-4.8 M617.4 265.4v4.8 M383.9 336.4h2.6 M617.4 336.4h-2.6 M383.9 331.67h2.6 M617.4 331.67h-2.6 M383.9 326.93h2.6 M617.4 326.93h-2.6 M383.9 322.2h2.6 M617.4 322.2h-2.6 M383.9 317.47h2.6 M617.4 317.47h-2.6 M383.9 312.73h2.6 M617.4 312.73h-2.6 M383.9 308h2.6 M617.4 308h-2.6 M383.9 303.27h2.6 M617.4 303.27h-2.6 M383.9 298.53h2.6 M617.4 298.53h-2.6 M383.9 293.8h2.6 M617.4 293.8h-2.6 M383.9 289.07h2.6 M617.4 289.07h-2.6 M383.9 284.33h2.6 M617.4 284.33h-2.6 M383.9 279.6h2.6 M617.4 279.6h-2.6 M383.9 274.87h2.6 M617.4 274.87h-2.6 M383.9 270.13h2.6 M617.4 270.13h-2.6 M383.9 265.4h2.6 M617.4 265.4h-2.6 M383.9 336.4h5.2 M617.4 336.4h-5.2 M383.9 312.73h5.2 M617.4 312.73h-5.2 M383.9 289.07h5.2 M617.4 289.07h-5.2 M383.9 265.4h5.2 M617.4 265.4h-5.2" stroke="#000" stroke-width="1" fill="none"/>
<rect x="383.9" y="265.4" width="233.5" height="71" fill="none" stroke="#000" stroke-width="1.3"/>
<text x="383.9" y="351.8" font-size="12.4" font-weight="bold" text-anchor="middle" font-family='"Liberation Sans", sans-serif'>0</text>
<text x="422.82" y="351.8" font-size="12.4" font-weight="bold" text-anchor="middle" font-family='"Liberation Sans", sans-serif'>0.2</text>
<text x="461.73" y="351.8" font-size="12.4" font-weight="bold" text-anchor="middle" font-family='"Liberation Sans", sans-serif'>0.4</text>
<text x="500.65" y="351.8" font-size="12.4" font-weight="bold" text-anchor="middle" font-family='"Liberation Sans", sans-serif'>0.6</text>
<text x="539.57" y="351.8" font-size="12.4" font-weight="bold" text-anchor="middle" font-family='"Liberation Sans", sans-serif'>0.8</text>
<text x="578.48" y="351.8" font-size="12.4" font-weight="bold" text-anchor="middle" font-family='"Liberation Sans", sans-serif'>1</text>
<text x="379.45" y="340.8" font-size="12.4" font-weight="bold" text-anchor="end" font-family='"Liberation Sans", sans-serif'>0</text>
<text x="379.45" y="317.13" font-size="12.4" font-weight="bold" text-anchor="end" font-family='"Liberation Sans", sans-serif'>1</text>
<text x="379.45" y="293.47" font-size="12.4" font-weight="bold" text-anchor="end" font-family='"Liberation Sans", sans-serif'>2</text>
<text x="379.45" y="269.8" font-size="12.4" font-weight="bold" text-anchor="end" font-family='"Liberation Sans", sans-serif'>3</text>
<text transform="translate(482.77 367.8) scale(1.050 1)" font-size="12.6" font-weight="bold" font-family='"Liberation Serif", serif'>d</text>
<text transform="translate(490.88 370.5) scale(0.992 1)" font-size="9.2" font-weight="bold" font-family='"Liberation Serif", serif'>wire</text>
<text transform="translate(507.75 367.8) scale(1.174 1)" font-size="12.6" font-weight="bold" font-family='"Liberation Serif", serif'>/</text>
<text transform="translate(512.6 367.8) scale(1.066 1)" font-size="12.6" font-weight="bold" font-family='"Liberation Serif", serif'>s</text>
<text transform="translate(364.6 301.1) rotate(-90)" font-size="14" font-weight="bold" text-anchor="middle" font-family='"Liberation Serif", serif'>SNR<tspan font-size="9.8" dy="3">Normalized</tspan></text>
<rect x="1.4" y="394.7" width="164.9" height="43.3" fill="none" stroke="#262626" stroke-width="1.2"/>
<line x1="1.4" y1="407.2" x2="166.3" y2="407.2" stroke="#262626" stroke-width="1.2"/>
<text x="57.6" y="402.4" font-size="7" font-weight="bold" fill="#262626" font-family='"Liberation Sans", sans-serif'>d<tspan font-size="5" dy="1.5">wire</tspan></text>
<text x="74.8" y="402.4" font-size="7" font-weight="bold" fill="#262626" font-family='"Liberation Sans", sans-serif'>=</text>
<text x="83.5" y="402.4" font-size="7" font-weight="bold" fill="#262626" font-family='"Liberation Sans", sans-serif'>150</text>
<text x="99.2" y="402.4" font-size="7" font-weight="bold" fill="#262626" font-family='"Liberation Sans", sans-serif'><tspan font-style="italic">μ</tspan>m</text>
<line x1="17.4" y1="413.3" x2="44.2" y2="413.3" stroke="#ff0000" stroke-width="2" stroke-dasharray="6.5 2 3 2"/>
<circle cx="30.75" cy="423.4" r="2.8" fill="none" stroke="#ff0000" stroke-width="1"/>
<path d="M30.75 429.6V435.4 M28.75 429.6h4 M28.75 435.4h4" stroke="#ff0000" stroke-width="1" fill="none"/>
<path d="M30.75 429.18 L27.15 435.66 L34.35 435.66 Z" fill="none" stroke="#ff0000" stroke-width="1"/>
<text x="47" y="414.8" font-size="7" font-weight="bold" fill="#1a1a1a" font-family='"Liberation Sans", sans-serif' word-spacing="2.1" stroke="#1a1a1a" stroke-width="0.15">Simulated SNR (average I<tspan font-size="5.2" dy="1.5">coil</tspan><tspan dy="-1.5">)</tspan></text>
<text x="47" y="424.9" font-size="7" font-weight="bold" fill="#1a1a1a" font-family='"Liberation Sans", sans-serif' word-spacing="2.1" stroke="#1a1a1a" stroke-width="0.15">Simulated SNR (actual I<tspan font-size="5.2" dy="1.5">coil</tspan><tspan dy="-1.5">)</tspan></text>
<text x="46.7" y="435" font-size="7" font-weight="bold" fill="#1a1a1a" font-family='"Liberation Sans", sans-serif' stroke="#1a1a1a" stroke-width="0.15">Measured SNR</text>
<rect x="170" y="394.7" width="164.9" height="43.3" fill="none" stroke="#262626" stroke-width="1.2"/>
<line x1="170" y1="407.2" x2="334.9" y2="407.2" stroke="#262626" stroke-width="1.2"/>
<text x="226.2" y="402.4" font-size="7" font-weight="bold" fill="#262626" font-family='"Liberation Sans", sans-serif'>d<tspan font-size="5" dy="1.5">wire</tspan></text>
<text x="243.4" y="402.4" font-size="7" font-weight="bold" fill="#262626" font-family='"Liberation Sans", sans-serif'>=</text>
<text x="252.1" y="402.4" font-size="7" font-weight="bold" fill="#262626" font-family='"Liberation Sans", sans-serif'>230</text>
<text x="267.8" y="402.4" font-size="7" font-weight="bold" fill="#262626" font-family='"Liberation Sans", sans-serif'><tspan font-style="italic">μ</tspan>m</text>
<line x1="186" y1="413.3" x2="212.8" y2="413.3" stroke="#0000ff" stroke-width="2" stroke-dasharray="6.5 2 3 2"/>
<circle cx="199.35" cy="423.4" r="2.8" fill="none" stroke="#0000ff" stroke-width="1"/>
<path d="M199.35 429.6V435.4 M197.35 429.6h4 M197.35 435.4h4" stroke="#0000ff" stroke-width="1" fill="none"/>
<path d="M199.35 429.18 L195.75 435.66 L202.95 435.66 Z" fill="none" stroke="#0000ff" stroke-width="1"/>
<text x="215.6" y="414.8" font-size="7" font-weight="bold" fill="#1a1a1a" font-family='"Liberation Sans", sans-serif' word-spacing="2.1" stroke="#1a1a1a" stroke-width="0.15">Simulated SNR (average I<tspan font-size="5.2" dy="1.5">coil</tspan><tspan dy="-1.5">)</tspan></text>
<text x="215.6" y="424.9" font-size="7" font-weight="bold" fill="#1a1a1a" font-family='"Liberation Sans", sans-serif' word-spacing="2.1" stroke="#1a1a1a" stroke-width="0.15">Simulated SNR (actual I<tspan font-size="5.2" dy="1.5">coil</tspan><tspan dy="-1.5">)</tspan></text>
<text x="215.3" y="435" font-size="7" font-weight="bold" fill="#1a1a1a" font-family='"Liberation Sans", sans-serif' stroke="#1a1a1a" stroke-width="0.15">Measured SNR</text>
<rect x="338.2" y="394.7" width="164.9" height="43.3" fill="none" stroke="#262626" stroke-width="1.2"/>
<line x1="338.2" y1="407.2" x2="503.1" y2="407.2" stroke="#262626" stroke-width="1.2"/>
<text x="394.4" y="402.4" font-size="7" font-weight="bold" fill="#262626" font-family='"Liberation Sans", sans-serif'>d<tspan font-size="5" dy="1.5">wire</tspan></text>
<text x="411.6" y="402.4" font-size="7" font-weight="bold" fill="#262626" font-family='"Liberation Sans", sans-serif'>=</text>
<text x="420.3" y="402.4" font-size="7" font-weight="bold" fill="#262626" font-family='"Liberation Sans", sans-serif'>280</text>
<text x="436" y="402.4" font-size="7" font-weight="bold" fill="#262626" font-family='"Liberation Sans", sans-serif'><tspan font-style="italic">μ</tspan>m</text>
<line x1="354.2" y1="413.3" x2="381" y2="413.3" stroke="#00ff00" stroke-width="2" stroke-dasharray="6.5 2 3 2"/>
<circle cx="367.55" cy="423.4" r="2.8" fill="none" stroke="#00ff00" stroke-width="1"/>
<path d="M367.55 429.6V435.4 M365.55 429.6h4 M365.55 435.4h4" stroke="#00ff00" stroke-width="1" fill="none"/>
<path d="M367.55 429.18 L363.95 435.66 L371.15 435.66 Z" fill="none" stroke="#00ff00" stroke-width="1"/>
<text x="383.8" y="414.8" font-size="7" font-weight="bold" fill="#1a1a1a" font-family='"Liberation Sans", sans-serif' word-spacing="2.1" stroke="#1a1a1a" stroke-width="0.15">Simulated SNR (average I<tspan font-size="5.2" dy="1.5">coil</tspan><tspan dy="-1.5">)</tspan></text>
<text x="383.8" y="424.9" font-size="7" font-weight="bold" fill="#1a1a1a" font-family='"Liberation Sans", sans-serif' word-spacing="2.1" stroke="#1a1a1a" stroke-width="0.15">Simulated SNR (actual I<tspan font-size="5.2" dy="1.5">coil</tspan><tspan dy="-1.5">)</tspan></text>
<text x="383.5" y="435" font-size="7" font-weight="bold" fill="#1a1a1a" font-family='"Liberation Sans", sans-serif' stroke="#1a1a1a" stroke-width="0.15">Measured SNR</text>
<rect x="506.2" y="394.7" width="164.9" height="43.3" fill="none" stroke="#262626" stroke-width="1.2"/>
<line x1="506.2" y1="407.2" x2="671.1" y2="407.2" stroke="#262626" stroke-width="1.2"/>
<text x="562.4" y="402.4" font-size="7" font-weight="bold" fill="#262626" font-family='"Liberation Sans", sans-serif'>d<tspan font-size="5" dy="1.5">wire</tspan></text>
<text x="579.6" y="402.4" font-size="7" font-weight="bold" fill="#262626" font-family='"Liberation Sans", sans-serif'>=</text>
<text x="588.3" y="402.4" font-size="7" font-weight="bold" fill="#262626" font-family='"Liberation Sans", sans-serif'>440</text>
<text x="604" y="402.4" font-size="7" font-weight="bold" fill="#262626" font-family='"Liberation Sans", sans-serif'><tspan font-style="italic">μ</tspan>m</text>
<line x1="522.2" y1="413.3" x2="549" y2="413.3" stroke="#ff00ff" stroke-width="2" stroke-dasharray="6.5 2 3 2"/>
<circle cx="535.55" cy="423.4" r="2.8" fill="none" stroke="#ff00ff" stroke-width="1"/>
<path d="M535.55 429.6V435.4 M533.55 429.6h4 M533.55 435.4h4" stroke="#ff00ff" stroke-width="1" fill="none"/>
<path d="M535.55 429.18 L531.95 435.66 L539.15 435.66 Z" fill="none" stroke="#ff00ff" stroke-width="1"/>
<text x="551.8" y="414.8" font-size="7" font-weight="bold" fill="#1a1a1a" font-family='"Liberation Sans", sans-serif' word-spacing="2.1" stroke="#1a1a1a" stroke-width="0.15">Simulated SNR (average I<tspan font-size="5.2" dy="1.5">coil</tspan><tspan dy="-1.5">)</tspan></text>
<text x="551.8" y="424.9" font-size="7" font-weight="bold" fill="#1a1a1a" font-family='"Liberation Sans", sans-serif' word-spacing="2.1" stroke="#1a1a1a" stroke-width="0.15">Simulated SNR (actual I<tspan font-size="5.2" dy="1.5">coil</tspan><tspan dy="-1.5">)</tspan></text>
<text x="551.5" y="435" font-size="7" font-weight="bold" fill="#1a1a1a" font-family='"Liberation Sans", sans-serif' stroke="#1a1a1a" stroke-width="0.15">Measured SNR</text>
<path d="M46.9 454V590.9 M139.6 454V590.9 M238.5 454V590.9 M338.4 454V590.9 M420.7 454V590.9 M504 454V590.9 M558.5 454V590.9 M621.7 454V590.9 M46.3 454.6H622.3 M46.3 508.8H622.3 M46.3 529H622.3 M46.3 549.5H622.3 M46.3 570.1H622.3 M46.3 590.3H622.3" stroke="#000" stroke-width="1.3" fill="none"/>
<text transform="translate(59.71 486.8) scale(1.213 1)" font-size="12.2" font-weight="bold" font-style="italic" font-family='"Liberation Serif", serif'>d</text>
<text transform="translate(68.2 489.6) scale(1.218 1)" font-size="9.2" font-weight="bold" font-style="italic" font-family='"Liberation Serif", serif'>wire</text>
<text transform="translate(93.18 488.2) scale(1.256 1)" font-size="12.8" font-family='"Liberation Serif", serif'>(</text>
<text transform="translate(99.26 486.8) scale(1.272 1)" font-size="12.2" font-weight="bold" font-style="italic" font-family='"Liberation Serif", serif'>μm</text>
<text transform="translate(119.07 488.2) scale(1.032 1)" font-size="12.8" font-family='"Liberation Serif", serif'>)</text>
<text transform="translate(150.53 479.7) scale(0.986 1)" font-size="13" font-weight="bold" font-family='"Liberation Sans", sans-serif'>Peak</text>
<g stroke="#000" stroke-width="0.3">
<text transform="translate(184.25 479.7) scale(1.468 1)" font-size="12.4" font-style="italic" font-family='"Liberation Serif", serif'>d</text>
<text transform="translate(193.71 482.2) scale(1.283 1)" font-size="9.2" font-style="italic" font-family='"Liberation Serif", serif'>wire</text>
<text transform="translate(215.37 481) scale(0.932 1)" font-size="13.5" font-style="italic" font-family='"Liberation Serif", serif'>/</text>
<text transform="translate(220.8 479.7) scale(1.168 1)" font-size="13.4" font-style="italic" font-family='"Liberation Serif", serif'>s</text>
</g>
<text transform="translate(154.05 494) scale(0.999 1)" font-size="13" font-weight="bold" font-family='"Liberation Sans", sans-serif'>(measured)</text>
<text transform="translate(249.43 479.7) scale(0.986 1)" font-size="13" font-weight="bold" font-family='"Liberation Sans", sans-serif'>Peak</text>
<g stroke="#000" stroke-width="0.3">
<text transform="translate(283.15 479.7) scale(1.468 1)" font-size="12.4" font-style="italic" font-family='"Liberation Serif", serif'>d</text>
<text transform="translate(292.61 482.2) scale(1.283 1)" font-size="9.2" font-style="italic" font-family='"Liberation Serif", serif'>wire</text>
<text transform="translate(314.27 481) scale(0.932 1)" font-size="13.5" font-style="italic" font-family='"Liberation Serif", serif'>/</text>
<text transform="translate(319.7 479.7) scale(1.168 1)" font-size="13.4" font-style="italic" font-family='"Liberation Serif", serif'>s</text>
</g>
<text transform="translate(252.95 494) scale(0.997 1)" font-size="13" font-weight="bold" font-family='"Liberation Sans", sans-serif'>(simulated)</text>
<text x="379.55" y="471.4" font-size="13" font-weight="bold" text-anchor="middle" font-family='"Liberation Sans", sans-serif'>Peak</text>
<text x="379.55" y="487" font-size="13" font-weight="bold" text-anchor="middle" font-family='"Liberation Sans", sans-serif'>difference</text>
<text x="379.55" y="502.4" font-size="12.5" text-anchor="middle" font-family='"Liberation Serif", serif'>Δ</text>
<text x="462.35" y="471.4" font-size="13" font-weight="bold" text-anchor="middle" font-family='"Liberation Sans", sans-serif'>Peak</text>
<text x="462.35" y="487" font-size="13" font-weight="bold" text-anchor="middle" font-family='"Liberation Sans", sans-serif'>difference</text>
<text x="462.35" y="502.4" font-size="13" font-weight="bold" text-anchor="middle" font-family='"Liberation Sans", sans-serif'>(%)</text>
<text x="531.25" y="486.6" font-size="13" font-weight="bold" text-anchor="middle" font-family='"Liberation Sans", sans-serif'>RMSE</text>
<text x="590.1" y="486.6" font-size="13" font-weight="bold" text-anchor="middle" font-family='"Liberation Sans", sans-serif'>R</text>
<text x="93.25" y="526.7" font-size="13" font-weight="bold" text-anchor="middle" font-family='"Liberation Sans", sans-serif'>150</text>
<text x="189.05" y="526.7" font-size="13" font-weight="bold" text-anchor="middle" font-family='"Liberation Sans", sans-serif'>0.476</text>
<text x="288.45" y="526.7" font-size="13" font-weight="bold" text-anchor="middle" font-family='"Liberation Sans", sans-serif'>0.484</text>
<text x="379.55" y="526.7" font-size="13" font-weight="bold" text-anchor="middle" font-family='"Liberation Sans", sans-serif'>0.008</text>
<text x="462.35" y="526.7" font-size="13" font-weight="bold" text-anchor="middle" font-family='"Liberation Sans", sans-serif'>1.6</text>
<text x="531.25" y="526.7" font-size="13" font-weight="bold" text-anchor="middle" font-family='"Liberation Sans", sans-serif'>0.151</text>
<text x="590.1" y="526.7" font-size="13" font-weight="bold" text-anchor="middle" font-family='"Liberation Sans", sans-serif'>0.975</text>
<text x="93.25" y="547.2" font-size="13" font-weight="bold" text-anchor="middle" font-family='"Liberation Sans", sans-serif'>230</text>
<text x="189.05" y="547.2" font-size="13" font-weight="bold" text-anchor="middle" font-family='"Liberation Sans", sans-serif'>0.519</text>
<text x="288.45" y="547.2" font-size="13" font-weight="bold" text-anchor="middle" font-family='"Liberation Sans", sans-serif'>0.494</text>
<text x="379.55" y="547.2" font-size="13" font-weight="bold" text-anchor="middle" font-family='"Liberation Sans", sans-serif'>0.025</text>
<text x="462.35" y="547.2" font-size="13" font-weight="bold" text-anchor="middle" font-family='"Liberation Sans", sans-serif'>5.1</text>
<text x="531.25" y="547.2" font-size="13" font-weight="bold" text-anchor="middle" font-family='"Liberation Sans", sans-serif'>0.288</text>
<text x="590.1" y="547.2" font-size="13" font-weight="bold" text-anchor="middle" font-family='"Liberation Sans", sans-serif'>0.959</text>
<text x="93.25" y="567.8" font-size="13" font-weight="bold" text-anchor="middle" font-family='"Liberation Sans", sans-serif'>280</text>
<text x="189.05" y="567.8" font-size="13" font-weight="bold" text-anchor="middle" font-family='"Liberation Sans", sans-serif'>0.579</text>
<text x="288.45" y="567.8" font-size="13" font-weight="bold" text-anchor="middle" font-family='"Liberation Sans", sans-serif'>0.558</text>
<text x="379.55" y="567.8" font-size="13" font-weight="bold" text-anchor="middle" font-family='"Liberation Sans", sans-serif'>0.021</text>
<text x="462.35" y="567.8" font-size="13" font-weight="bold" text-anchor="middle" font-family='"Liberation Sans", sans-serif'>3.8</text>
<text x="531.25" y="567.8" font-size="13" font-weight="bold" text-anchor="middle" font-family='"Liberation Sans", sans-serif'>0.261</text>
<text x="590.1" y="567.8" font-size="13" font-weight="bold" text-anchor="middle" font-family='"Liberation Sans", sans-serif'>0.883</text>
<text x="93.25" y="588" font-size="13" font-weight="bold" text-anchor="middle" font-family='"Liberation Sans", sans-serif'>440</text>
<text x="189.05" y="588" font-size="13" font-weight="bold" text-anchor="middle" font-family='"Liberation Sans", sans-serif'>—</text>
<text x="288.45" y="588" font-size="13" font-weight="bold" text-anchor="middle" font-family='"Liberation Sans", sans-serif'>0.546</text>
<text x="379.55" y="588" font-size="13" font-weight="bold" text-anchor="middle" font-family='"Liberation Sans", sans-serif'>—</text>
<text x="462.35" y="588" font-size="13" font-weight="bold" text-anchor="middle" font-family='"Liberation Sans", sans-serif'>—</text>
<text x="531.25" y="588" font-size="13" font-weight="bold" text-anchor="middle" font-family='"Liberation Sans", sans-serif'>—</text>
<text x="590.1" y="588" font-size="13" font-weight="bold" text-anchor="middle" font-family='"Liberation Sans", sans-serif'>—</text>
<line x1="8.8" y1="608.3" x2="685" y2="608.3" stroke="#000" stroke-width="2.3" stroke-dasharray="8.4 6.22"/>
<line x1="92.32" y1="632.3" x2="92.32" y2="796.4" stroke="#d4d4d4" stroke-width="1"/>
<line x1="135.14" y1="632.3" x2="135.14" y2="796.4" stroke="#d4d4d4" stroke-width="1"/>
<line x1="177.96" y1="632.3" x2="177.96" y2="796.4" stroke="#d4d4d4" stroke-width="1"/>
<line x1="220.78" y1="632.3" x2="220.78" y2="796.4" stroke="#d4d4d4" stroke-width="1"/>
<line x1="49.5" y1="763.58" x2="263.6" y2="763.58" stroke="#d4d4d4" stroke-width="1"/>
<line x1="49.5" y1="730.76" x2="263.6" y2="730.76" stroke="#d4d4d4" stroke-width="1"/>
<line x1="49.5" y1="697.94" x2="263.6" y2="697.94" stroke="#d4d4d4" stroke-width="1"/>
<line x1="49.5" y1="665.12" x2="263.6" y2="665.12" stroke="#d4d4d4" stroke-width="1"/>
<path d="M102.5 632.3 L103.31 642.89 L104.11 652.65 L104.92 661.66 L105.73 669.99 L106.54 677.7 L107.35 684.83 L108.16 691.45 L108.97 697.59 L109.78 703.3 L110.59 708.61 L111.4 713.55 L112.21 718.15 L113.02 722.45 L113.83 726.45 L114.64 730.2 L115.45 733.7 L116.26 736.98 L117.07 740.05 L117.88 742.93 L118.69 745.62 L119.5 748.16 L120.31 750.54 L121.12 752.78 L121.93 754.88 L122.74 756.86 L123.54 758.73 L124.35 760.49 L125.16 762.15 L125.97 763.72 L126.78 765.2 L127.59 766.59 L128.4 767.92 L129.21 769.17 L130.02 770.35 L130.83 771.47 L131.64 772.54 L132.45 773.54 L133.26 774.5 L134.07 775.41 L134.88 776.27 L135.69 777.09 L136.5 777.87 L137.31 778.61 L138.12 779.31 L138.93 779.98 L139.74 780.62 L140.55 781.23 L141.36 781.81 L142.16 782.36 L142.97 782.89 L143.78 783.39 L144.59 783.87 L145.4 784.33 L146.21 784.77 L147.02 785.19 L147.83 785.59 L148.64 785.97 L149.45 786.34 L150.26 786.69 L151.07 787.02 L151.88 787.35 L152.69 787.65 L153.5 787.95 L154.31 788.23 L155.12 788.51 L155.93 788.77 L156.74 789.02 L157.55 789.26 L158.36 789.49 L159.17 789.71 L159.98 789.92 L160.78 790.13 L161.59 790.32 L162.4 790.51 L163.21 790.7 L164.02 790.87 L164.83 791.04 L165.64 791.2 L166.45 791.36 L167.26 791.51 L168.07 791.65 L168.88 791.79 L169.69 791.93 L170.5 792.06 L171.31 792.19 L172.12 792.31 L172.93 792.42 L173.74 792.54 L174.55 792.64 L175.36 792.75 L176.17 792.85 L176.98 792.95 L177.79 793.04 L178.6 793.14 L179.4 793.22 L180.21 793.31 L181.02 793.39 L181.83 793.47 L182.64 793.55 L183.45 793.63 L184.26 793.7 L185.07 793.77 L185.88 793.84 L186.69 793.9 L187.5 793.97 L188.31 794.03 L189.12 794.09 L189.93 794.15 L190.74 794.2 L191.55 794.26 L192.36 794.31 L193.17 794.36 L193.98 794.41 L194.79 794.46 L195.6 794.51 L196.41 794.55 L197.22 794.6 L198.02 794.64 L198.83 794.68 L199.64 794.72 L200.45 794.76 L201.26 794.8 L202.07 794.84 L202.88 794.87 L203.69 794.91 L204.5 794.94 L205.31 794.97 L206.12 795.01 L206.93 795.04 L207.74 795.07 L208.55 795.1 L209.36 795.13 L210.17 795.15 L210.98 795.18 L211.79 795.21 L212.6 795.23 L213.41 795.26 L214.22 795.28 L215.03 795.31 L215.84 795.33 L216.65 795.35 L217.45 795.37 L218.26 795.4 L219.07 795.42 L219.88 795.44 L220.69 795.46 L221.5 795.48 L222.31 795.5 L223.12 795.51 L223.93 795.53 L224.74 795.55 L225.55 795.57 L226.36 795.58 L227.17 795.6 L227.98 795.62 L228.79 795.63 L229.6 795.65 L230.41 795.66 L231.22 795.67 L232.03 795.69 L232.84 795.7 L233.65 795.72 L234.46 795.73 L235.27 795.74 L236.07 795.75 L236.88 795.77 L237.69 795.78 L238.5 795.79 L239.31 795.8 L240.12 795.81 L240.93 795.82 L241.74 795.83 L242.55 795.84 L243.36 795.85 L244.17 795.86 L244.98 795.87 L245.79 795.88 L246.6 795.89 L247.41 795.9 L248.22 795.91 L249.03 795.92 L249.84 795.93 L250.65 795.94 L251.46 795.94 L252.27 795.95 L253.08 795.96 L253.89 795.97 L254.69 795.98 L255.5 795.98 L256.31 795.99 L257.12 796 L257.93 796 L258.74 796.01 L259.55 796.02 L260.36 796.02 L261.17 796.03 L261.98 796.04 L262.79 796.04 L263.6 796.05" fill="none" stroke="#000" stroke-width="2.1"/>
<line x1="49.5" y1="697.94" x2="109.02" y2="697.94" stroke="#1a1a1a" stroke-width="0.75" stroke-dasharray="3 2"/>
<line x1="109.02" y1="697.94" x2="109.02" y2="796.4" stroke="#1a1a1a" stroke-width="0.75" stroke-dasharray="3 2"/>
<path d="M109.02 694.24 L105.13 700.9 L112.9 700.9 Z" fill="none" stroke="#ff1a1a" stroke-width="2.6" stroke-linejoin="miter"/>
<path d="M49.5 796.4v-2 M49.5 632.3v2 M60.2 796.4v-2 M60.2 632.3v2 M70.91 796.4v-2 M70.91 632.3v2 M81.62 796.4v-2 M81.62 632.3v2 M92.32 796.4v-2 M92.32 632.3v2 M103.03 796.4v-2 M103.03 632.3v2 M113.73 796.4v-2 M113.73 632.3v2 M124.44 796.4v-2 M124.44 632.3v2 M135.14 796.4v-2 M135.14 632.3v2 M145.85 796.4v-2 M145.85 632.3v2 M156.55 796.4v-2 M156.55 632.3v2 M167.26 796.4v-2 M167.26 632.3v2 M177.96 796.4v-2 M177.96 632.3v2 M188.67 796.4v-2 M188.67 632.3v2 M199.37 796.4v-2 M199.37 632.3v2 M210.08 796.4v-2 M210.08 632.3v2 M220.78 796.4v-2 M220.78 632.3v2 M231.49 796.4v-2 M231.49 632.3v2 M242.19 796.4v-2 M242.19 632.3v2 M252.9 796.4v-2 M252.9 632.3v2 M263.6 796.4v-2 M263.6 632.3v2 M49.5 796.4v-3.2 M49.5 632.3v3.2 M92.32 796.4v-3.2 M92.32 632.3v3.2 M135.14 796.4v-3.2 M135.14 632.3v3.2 M177.96 796.4v-3.2 M177.96 632.3v3.2 M220.78 796.4v-3.2 M220.78 632.3v3.2 M263.6 796.4v-3.2 M263.6 632.3v3.2 M49.5 796.4h2 M263.6 796.4h-2 M49.5 789.84h2 M263.6 789.84h-2 M49.5 783.27h2 M263.6 783.27h-2 M49.5 776.71h2 M263.6 776.71h-2 M49.5 770.14h2 M263.6 770.14h-2 M49.5 763.58h2 M263.6 763.58h-2 M49.5 757.02h2 M263.6 757.02h-2 M49.5 750.45h2 M263.6 750.45h-2 M49.5 743.89h2 M263.6 743.89h-2 M49.5 737.32h2 M263.6 737.32h-2 M49.5 730.76h2 M263.6 730.76h-2 M49.5 724.2h2 M263.6 724.2h-2 M49.5 717.63h2 M263.6 717.63h-2 M49.5 711.07h2 M263.6 711.07h-2 M49.5 704.5h2 M263.6 704.5h-2 M49.5 697.94h2 M263.6 697.94h-2 M49.5 691.38h2 M263.6 691.38h-2 M49.5 684.81h2 M263.6 684.81h-2 M49.5 678.25h2 M263.6 678.25h-2 M49.5 671.68h2 M263.6 671.68h-2 M49.5 665.12h2 M263.6 665.12h-2 M49.5 658.56h2 M263.6 658.56h-2 M49.5 651.99h2 M263.6 651.99h-2 M49.5 645.43h2 M263.6 645.43h-2 M49.5 638.86h2 M263.6 638.86h-2 M49.5 632.3h2 M263.6 632.3h-2 M49.5 796.4h3.2 M263.6 796.4h-3.2 M49.5 763.58h3.2 M263.6 763.58h-3.2 M49.5 730.76h3.2 M263.6 730.76h-3.2 M49.5 697.94h3.2 M263.6 697.94h-3.2 M49.5 665.12h3.2 M263.6 665.12h-3.2 M49.5 632.3h3.2 M263.6 632.3h-3.2" stroke="#262626" stroke-width="1" fill="none"/>
<rect x="49.5" y="632.3" width="214.1" height="164.1" fill="none" stroke="#262626" stroke-width="1.5"/>
<text x="49.5" y="810.4" font-size="10.5" text-anchor="middle" fill="#262626" font-family='"Liberation Sans", sans-serif'>0</text>
<text x="92.32" y="810.4" font-size="10.5" text-anchor="middle" fill="#262626" font-family='"Liberation Sans", sans-serif'>2</text>
<text x="135.14" y="810.4" font-size="10.5" text-anchor="middle" fill="#262626" font-family='"Liberation Sans", sans-serif'>4</text>
<text x="177.96" y="810.4" font-size="10.5" text-anchor="middle" fill="#262626" font-family='"Liberation Sans", sans-serif'>6</text>
<text x="220.78" y="810.4" font-size="10.5" text-anchor="middle" fill="#262626" font-family='"Liberation Sans", sans-serif'>8</text>
<text x="263.6" y="810.4" font-size="10.5" text-anchor="middle" fill="#262626" font-family='"Liberation Sans", sans-serif'>10</text>
<text x="45.6" y="800.2" font-size="10.5" text-anchor="end" fill="#262626" font-family='"Liberation Sans", sans-serif'>0</text>
<text x="45.6" y="767.38" font-size="10.5" text-anchor="end" fill="#262626" font-family='"Liberation Sans", sans-serif'>5</text>
<text x="45.6" y="734.56" font-size="10.5" text-anchor="end" fill="#262626" font-family='"Liberation Sans", sans-serif'>10</text>
<text x="45.6" y="701.74" font-size="10.5" text-anchor="end" fill="#262626" font-family='"Liberation Sans", sans-serif'>15</text>
<text x="45.6" y="668.92" font-size="10.5" text-anchor="end" fill="#262626" font-family='"Liberation Sans", sans-serif'>20</text>
<text x="45.6" y="636.1" font-size="10.5" text-anchor="end" fill="#262626" font-family='"Liberation Sans", sans-serif'>25</text>
<text transform="translate(109.38 625.8) scale(1.102 1)" font-size="13.2" font-weight="bold" font-family='"Liberation Sans", sans-serif'>l</text>
<text transform="translate(112.47 628.6) scale(0.976 1)" font-size="9.8" font-weight="bold" font-family='"Liberation Sans", sans-serif'>sample</text>
<text transform="translate(145.35 625.8) scale(1.147 1)" font-size="13.2" font-weight="bold" font-family='"Liberation Sans", sans-serif'>/</text>
<text transform="translate(149.27 625.8) scale(1.185 1)" font-size="13.2" font-weight="bold" font-family='"Liberation Sans", sans-serif'>d</text>
<text transform="translate(158.32 628.6) scale(0.968 1)" font-size="9.8" font-weight="bold" font-family='"Liberation Sans", sans-serif'>coil</text>
<text transform="translate(181.11 625.8) scale(1.045 1)" font-size="13.2" font-weight="bold" font-family='"Liberation Sans", sans-serif'>=</text>
<text transform="translate(194.96 625.8) scale(1.168 1)" font-size="13.2" font-weight="bold" font-family='"Liberation Sans", sans-serif'>2</text>
<text transform="translate(131.63 825.6) scale(1.140 1)" font-size="13.4" font-weight="bold" font-family='"Liberation Sans", sans-serif'>l</text>
<text transform="translate(135.74 828.6) scale(0.950 1)" font-size="9.6" font-weight="bold" font-family='"Liberation Sans", sans-serif'>coil</text>
<text transform="translate(151.34 825.6) scale(1.188 1)" font-size="13.4" font-weight="bold" font-family='"Liberation Sans", sans-serif'>/</text>
<text transform="translate(155.41 825.6) scale(1.108 1)" font-size="13.4" font-weight="bold" font-family='"Liberation Sans", sans-serif'>d</text>
<text transform="translate(164.13 828.6) scale(0.969 1)" font-size="9.6" font-weight="bold" font-family='"Liberation Sans", sans-serif'>coil</text>
<g transform="translate(23.1 746) rotate(-90)">
<text transform="translate(-0.57 0) scale(1.236 1)" font-size="12.4" fill="#262626" font-family='"Liberation Serif", serif'>Δ</text>
<text transform="translate(9.98 0) scale(0.973 1)" font-size="12.4" font-style="italic" fill="#262626" font-family='"Liberation Serif", serif'>B</text>
<text transform="translate(17.58 -4.6) scale(1.087 1)" font-size="9.5" fill="#262626" font-family='"Liberation Serif", serif'>−</text>
<text transform="translate(17.06 4.5) scale(1.015 1)" font-size="9.5" fill="#262626" font-family='"Liberation Serif", serif'>1</text>
<text transform="translate(24.66 0) scale(0.649 1)" font-size="12.4" font-style="italic" fill="#262626" font-family='"Liberation Serif", serif'>/</text>
<text transform="translate(28.78 0) scale(1.001 1)" font-size="12.4" font-style="italic" fill="#262626" font-family='"Liberation Serif", serif'>B</text>
<text transform="translate(36.73 -4.6) scale(1.200 1)" font-size="9.5" fill="#262626" font-family='"Liberation Serif", serif'>−</text>
<text transform="translate(36.36 4.5) scale(1.015 1)" font-size="9.5" fill="#262626" font-family='"Liberation Serif", serif'>1</text>
<text transform="translate(45.23 0) scale(1.088 1)" font-size="11.6" fill="#262626" font-family='"Liberation Serif", serif'>(%)</text>
</g>
<rect x="140.4" y="643.7" width="148.4" height="35.3" fill="#fff" stroke="#000" stroke-width="1.3"/>
<line x1="144.4" y1="654.9" x2="177.1" y2="654.9" stroke="#000" stroke-width="2.1"/>
<path d="M161.4 667 L157.62 673.48 L165.18 673.48 Z" fill="none" stroke="#ff1a1a" stroke-width="2.5" stroke-linejoin="miter"/>
<text transform="translate(182.36 657.6) scale(1.157 1)" font-size="10.2" fill="#111" font-family='"Liberation Serif", serif'>Δ</text>
<text transform="translate(190.9 657.6) scale(0.997 1)" font-size="10.2" font-style="italic" fill="#111" font-family='"Liberation Serif", serif'>B</text>
<text transform="translate(197.43 655.2) scale(0.975 1)" font-size="7.5" fill="#111" font-family='"Liberation Serif", serif'>−</text>
<text transform="translate(198.1 661.3) scale(1.032 1)" font-size="5.5" fill="#111" font-family='"Liberation Serif", serif'>1</text>
<text transform="translate(203.32 657.6) scale(0.691 1)" font-size="10.2" font-style="italic" fill="#111" font-family='"Liberation Serif", serif'>/</text>
<text transform="translate(207.21 657.6) scale(0.930 1)" font-size="10.2" font-style="italic" fill="#111" font-family='"Liberation Serif", serif'>B</text>
<text transform="translate(213.84 655.2) scale(1.233 1)" font-size="7.5" fill="#111" font-family='"Liberation Serif", serif'>−</text>
<text transform="translate(214.7 661.3) scale(1.032 1)" font-size="5.5" fill="#111" font-family='"Liberation Serif", serif'>1</text>
<text transform="translate(182.35 674.5) scale(1.085 1)" font-size="10.6" fill="#111" font-family='"Liberation Serif", serif'>Minimum ratio = 2.80</text>
<line x1="436.48" y1="629.6" x2="436.48" y2="802.1" stroke="#d4d4d4" stroke-width="1"/>
<line x1="479.16" y1="629.6" x2="479.16" y2="802.1" stroke="#d4d4d4" stroke-width="1"/>
<line x1="521.84" y1="629.6" x2="521.84" y2="802.1" stroke="#d4d4d4" stroke-width="1"/>
<line x1="564.52" y1="629.6" x2="564.52" y2="802.1" stroke="#d4d4d4" stroke-width="1"/>
<line x1="393.8" y1="784.49" x2="607.2" y2="784.49" stroke="#d4d4d4" stroke-width="1"/>
<line x1="393.8" y1="766.88" x2="607.2" y2="766.88" stroke="#d4d4d4" stroke-width="1"/>
<line x1="393.8" y1="749.27" x2="607.2" y2="749.27" stroke="#d4d4d4" stroke-width="1"/>
<line x1="393.8" y1="731.66" x2="607.2" y2="731.66" stroke="#d4d4d4" stroke-width="1"/>
<line x1="393.8" y1="714.04" x2="607.2" y2="714.04" stroke="#d4d4d4" stroke-width="1"/>
<line x1="393.8" y1="696.43" x2="607.2" y2="696.43" stroke="#d4d4d4" stroke-width="1"/>
<line x1="393.8" y1="678.82" x2="607.2" y2="678.82" stroke="#d4d4d4" stroke-width="1"/>
<line x1="393.8" y1="661.21" x2="607.2" y2="661.21" stroke="#d4d4d4" stroke-width="1"/>
<line x1="393.8" y1="643.6" x2="607.2" y2="643.6" stroke="#d4d4d4" stroke-width="1"/>
<path d="M411.6 745.42 L413.63 742 L415.66 739.03 L417.7 736.46 L419.73 734.21 L421.76 732.25 L423.8 730.54 L425.83 729.06 L427.86 727.78 L429.89 726.68 L431.93 725.74 L433.96 724.95 L435.99 724.3 L438.03 723.77 L440.06 723.36 L442.09 723.05 L444.13 722.84 L446.16 722.72 L448.19 722.69 L450.22 722.73 L452.26 722.86 L454.29 723.05 L456.32 723.3 L458.36 723.62 L460.39 724 L462.42 724.43 L464.45 724.92 L466.49 725.45 L468.52 726.03 L470.55 726.65 L472.59 727.32 L474.62 728.02 L476.65 728.77 L478.69 729.54 L480.72 730.35 L482.75 731.2 L484.78 732.07 L486.82 732.97 L488.85 733.9 L490.88 734.86 L492.92 735.84 L494.95 736.85 L496.98 737.88 L499.02 738.93 L501.05 740 L503.08 741.09 L505.11 742.19 L507.15 743.32 L509.18 744.46 L511.21 745.62 L513.25 746.79 L515.28 747.98 L517.31 749.18 L519.35 750.39 L521.38 751.62 L523.41 752.86 L525.44 754.1 L527.48 755.36 L529.51 756.63 L531.54 757.91 L533.58 759.19 L535.61 760.48 L537.64 761.78 L539.67 763.09 L541.71 764.41 L543.74 765.73 L545.77 767.05 L547.81 768.38 L549.84 769.72 L551.87 771.05 L553.91 772.4 L555.94 773.74 L557.97 775.09 L560 776.45 L562.04 777.8 L564.07 779.16 L566.1 780.52 L568.14 781.88 L570.17 783.24 L572.2 784.6" fill="none" stroke="#3a78c9" stroke-width="2"/>
<path d="M405.88 708.82 L407.23 704.67 L408.58 700.99 L409.93 697.71 L411.27 694.77 L412.62 692.13 L413.97 689.77 L415.32 687.63 L416.67 685.72 L418.02 684 L419.37 682.45 L420.72 681.07 L422.07 679.84 L423.42 678.74 L424.76 677.78 L426.11 676.94 L427.46 676.2 L428.81 675.58 L430.16 675.05 L431.51 674.62 L432.86 674.28 L434.21 674.02 L435.56 673.85 L436.91 673.75 L438.25 673.72 L439.6 673.76 L440.95 673.87 L442.3 674.04 L443.65 674.27 L445 674.56 L446.35 674.91 L447.7 675.31 L449.05 675.76 L450.4 676.27 L451.74 676.82 L453.09 677.41 L454.44 678.06 L455.79 678.74 L457.14 679.47 L458.49 680.23 L459.84 681.04 L461.19 681.88 L462.54 682.76 L463.89 683.67 L465.23 684.62 L466.58 685.6 L467.93 686.61 L469.28 687.65 L470.63 688.72 L471.98 689.82 L473.33 690.95 L474.68 692.1 L476.03 693.28 L477.38 694.48 L478.73 695.71 L480.07 696.96 L481.42 698.24 L482.77 699.53 L484.12 700.85 L485.47 702.19 L486.82 703.54 L488.17 704.92 L489.52 706.31 L490.87 707.72 L492.22 709.15 L493.56 710.59 L494.91 712.05 L496.26 713.52 L497.61 715.01 L498.96 716.51 L500.31 718.03 L501.66 719.55 L503.01 721.09 L504.36 722.65 L505.71 724.21 L507.05 725.78 L508.4 727.36 L509.75 728.96 L511.1 730.56 L512.45 732.17" fill="none" stroke="#e05326" stroke-width="2"/>
<path d="M402.68 697.54 L403.7 692.84 L404.72 688.7 L405.74 685.04 L406.76 681.79 L407.78 678.9 L408.8 676.32 L409.82 674.02 L410.84 671.97 L411.86 670.14 L412.88 668.51 L413.9 667.07 L414.92 665.8 L415.94 664.68 L416.96 663.71 L417.98 662.86 L419 662.14 L420.02 661.53 L421.04 661.03 L422.06 660.63 L423.08 660.33 L424.1 660.11 L425.12 659.97 L426.14 659.91 L427.16 659.93 L428.18 660.01 L429.2 660.16 L430.22 660.37 L431.24 660.64 L432.26 660.97 L433.28 661.35 L434.3 661.79 L435.32 662.27 L436.34 662.79 L437.36 663.36 L438.38 663.98 L439.4 664.63 L440.42 665.32 L441.44 666.05 L442.46 666.81 L443.48 667.61 L444.5 668.43 L445.52 669.29 L446.54 670.18 L447.56 671.1 L448.58 672.04 L449.6 673.01 L450.62 674.01 L451.64 675.02 L452.66 676.07 L453.68 677.13 L454.7 678.21 L455.72 679.32 L456.74 680.44 L457.76 681.58 L458.78 682.74 L459.8 683.91 L460.82 685.11 L461.84 686.31 L462.86 687.54 L463.88 688.77 L464.9 690.02 L465.92 691.28 L466.94 692.56 L467.96 693.85 L468.98 695.14 L470 696.45 L471.02 697.77 L472.04 699.1 L473.06 700.44 L474.08 701.79 L475.1 703.14 L476.12 704.5 L477.14 705.87 L478.16 707.25 L479.18 708.64 L480.2 710.03 L481.22 711.42 L482.24 712.83 L483.26 714.23" fill="none" stroke="#e6ad35" stroke-width="2"/>
<path d="M399.39 700.55 L400.22 695.27 L401.05 690.71 L401.88 686.75 L402.71 683.28 L403.54 680.22 L404.37 677.51 L405.2 675.11 L406.03 672.97 L406.86 671.08 L407.69 669.39 L408.53 667.9 L409.36 666.57 L410.19 665.41 L411.02 664.38 L411.85 663.49 L412.68 662.72 L413.51 662.06 L414.34 661.51 L415.17 661.05 L416 660.68 L416.83 660.4 L417.66 660.2 L418.49 660.07 L419.32 660.02 L420.15 660.03 L420.98 660.1 L421.81 660.23 L422.64 660.42 L423.47 660.67 L424.3 660.96 L425.13 661.3 L425.96 661.69 L426.79 662.13 L427.62 662.6 L428.45 663.12 L429.28 663.68 L430.11 664.27 L430.95 664.9 L431.78 665.56 L432.61 666.25 L433.44 666.98 L434.27 667.73 L435.1 668.51 L435.93 669.33 L436.76 670.16 L437.59 671.03 L438.42 671.91 L439.25 672.82 L440.08 673.76 L440.91 674.71 L441.74 675.69 L442.57 676.69 L443.4 677.7 L444.23 678.74 L445.06 679.79 L445.89 680.86 L446.72 681.95 L447.55 683.05 L448.38 684.17 L449.21 685.3 L450.04 686.45 L450.87 687.61 L451.7 688.78 L452.53 689.97 L453.37 691.17 L454.2 692.38 L455.03 693.6 L455.86 694.83 L456.69 696.08 L457.52 697.33 L458.35 698.59 L459.18 699.86 L460.01 701.14 L460.84 702.43 L461.67 703.73 L462.5 705.03 L463.33 706.34 L464.16 707.66 L464.99 708.99" fill="none" stroke="#8a22f2" stroke-width="2"/>
<path d="M399.39 700.63 L400.07 696.28 L400.75 692.49 L401.43 689.17 L402.11 686.24 L402.79 683.66 L403.47 681.38 L404.15 679.35 L404.83 677.56 L405.51 675.98 L406.19 674.58 L406.87 673.34 L407.55 672.26 L408.23 671.32 L408.91 670.51 L409.59 669.81 L410.27 669.23 L410.94 668.74 L411.62 668.34 L412.3 668.03 L412.98 667.8 L413.66 667.64 L414.34 667.56 L415.02 667.54 L415.7 667.58 L416.38 667.68 L417.06 667.83 L417.74 668.04 L418.42 668.29 L419.1 668.59 L419.78 668.93 L420.46 669.31 L421.14 669.73 L421.82 670.19 L422.5 670.68 L423.18 671.2 L423.86 671.76 L424.54 672.35 L425.22 672.96 L425.9 673.6 L426.58 674.27 L427.26 674.96 L427.94 675.67 L428.62 676.41 L429.3 677.17 L429.97 677.94 L430.65 678.74 L431.33 679.55 L432.01 680.38 L432.69 681.23 L433.37 682.09 L434.05 682.97 L434.73 683.86 L435.41 684.77 L436.09 685.69 L436.77 686.62 L437.45 687.56 L438.13 688.52 L438.81 689.48 L439.49 690.46 L440.17 691.44 L440.85 692.43 L441.53 693.44 L442.21 694.45 L442.89 695.46 L443.57 696.49 L444.25 697.52 L444.93 698.56 L445.61 699.61 L446.29 700.66 L446.97 701.71 L447.65 702.78 L448.33 703.84 L449 704.91 L449.68 705.99 L450.36 707.07 L451.04 708.15 L451.72 709.24 L452.4 710.33 L453.08 711.43" fill="none" stroke="#4cb83c" stroke-width="2"/>
<path d="M398.71 708.27 L399.29 704.79 L399.87 701.73 L400.45 699.02 L401.03 696.62 L401.61 694.48 L402.19 692.56 L402.77 690.84 L403.35 689.3 L403.94 687.93 L404.52 686.69 L405.1 685.59 L405.68 684.61 L406.26 683.73 L406.84 682.96 L407.42 682.29 L408 681.7 L408.58 681.19 L409.16 680.76 L409.74 680.39 L410.32 680.1 L410.9 679.87 L411.49 679.7 L412.07 679.58 L412.65 679.52 L413.23 679.51 L413.81 679.55 L414.39 679.63 L414.97 679.76 L415.55 679.93 L416.13 680.14 L416.71 680.39 L417.29 680.67 L417.87 680.99 L418.45 681.34 L419.04 681.73 L419.62 682.14 L420.2 682.59 L420.78 683.06 L421.36 683.57 L421.94 684.1 L422.52 684.65 L423.1 685.23 L423.68 685.83 L424.26 686.46 L424.84 687.11 L425.42 687.78 L426 688.47 L426.59 689.19 L427.17 689.92 L427.75 690.67 L428.33 691.44 L428.91 692.22 L429.49 693.03 L430.07 693.85 L430.65 694.69 L431.23 695.54 L431.81 696.41 L432.39 697.29 L432.97 698.18 L433.55 699.09 L434.14 700.02 L434.72 700.95 L435.3 701.9 L435.88 702.86 L436.46 703.83 L437.04 704.82 L437.62 705.81 L438.2 706.82 L438.78 707.83 L439.36 708.86 L439.94 709.89 L440.52 710.94 L441.1 711.99 L441.69 713.06 L442.27 714.13 L442.85 715.21 L443.43 716.29 L444.01 717.39 L444.59 718.49" fill="none" stroke="#5ccbf2" stroke-width="2"/>
<path d="M398.2 718.99 L398.7 715.51 L399.21 712.47 L399.72 709.8 L400.23 707.45 L400.73 705.36 L401.24 703.51 L401.75 701.86 L402.25 700.4 L402.76 699.11 L403.27 697.96 L403.78 696.95 L404.28 696.06 L404.79 695.28 L405.3 694.61 L405.81 694.02 L406.31 693.53 L406.82 693.11 L407.33 692.77 L407.83 692.5 L408.34 692.3 L408.85 692.15 L409.36 692.07 L409.86 692.03 L410.37 692.05 L410.88 692.11 L411.39 692.21 L411.89 692.36 L412.4 692.55 L412.91 692.78 L413.41 693.04 L413.92 693.33 L414.43 693.66 L414.94 694.02 L415.44 694.4 L415.95 694.81 L416.46 695.25 L416.97 695.71 L417.47 696.2 L417.98 696.71 L418.49 697.24 L419 697.79 L419.5 698.36 L420.01 698.95 L420.52 699.55 L421.02 700.18 L421.53 700.82 L422.04 701.47 L422.55 702.14 L423.05 702.82 L423.56 703.52 L424.07 704.23 L424.58 704.95 L425.08 705.69 L425.59 706.43 L426.1 707.19 L426.6 707.95 L427.11 708.73 L427.62 709.51 L428.13 710.31 L428.63 711.11 L429.14 711.92 L429.65 712.74 L430.16 713.56 L430.66 714.4 L431.17 715.24 L431.68 716.08 L432.18 716.93 L432.69 717.79 L433.2 718.66 L433.71 719.52 L434.21 720.4 L434.72 721.28 L435.23 722.16 L435.74 723.05 L436.24 723.94 L436.75 724.84 L437.26 725.73 L437.77 726.64 L438.27 727.54" fill="none" stroke="#d5339e" stroke-width="2"/>
<line x1="393.8" y1="659.45" x2="421.24" y2="659.45" stroke="#1a1a1a" stroke-width="0.75" stroke-dasharray="3 2"/>
<line x1="421.24" y1="659.45" x2="421.24" y2="802.1" stroke="#1a1a1a" stroke-width="0.75" stroke-dasharray="3 2"/>
<path d="M421.24 656.4 L418.72 660.72 L423.76 660.72 Z" fill="none" stroke="#ff1a1a" stroke-width="2.2" stroke-linejoin="miter"/>
<path d="M393.8 802.1v-1.8 M393.8 629.6v1.8 M402.34 802.1v-1.8 M402.34 629.6v1.8 M410.87 802.1v-1.8 M410.87 629.6v1.8 M419.41 802.1v-1.8 M419.41 629.6v1.8 M427.94 802.1v-1.8 M427.94 629.6v1.8 M436.48 802.1v-1.8 M436.48 629.6v1.8 M445.02 802.1v-1.8 M445.02 629.6v1.8 M453.55 802.1v-1.8 M453.55 629.6v1.8 M462.09 802.1v-1.8 M462.09 629.6v1.8 M470.62 802.1v-1.8 M470.62 629.6v1.8 M479.16 802.1v-1.8 M479.16 629.6v1.8 M487.7 802.1v-1.8 M487.7 629.6v1.8 M496.23 802.1v-1.8 M496.23 629.6v1.8 M504.77 802.1v-1.8 M504.77 629.6v1.8 M513.3 802.1v-1.8 M513.3 629.6v1.8 M521.84 802.1v-1.8 M521.84 629.6v1.8 M530.38 802.1v-1.8 M530.38 629.6v1.8 M538.91 802.1v-1.8 M538.91 629.6v1.8 M547.45 802.1v-1.8 M547.45 629.6v1.8 M555.98 802.1v-1.8 M555.98 629.6v1.8 M564.52 802.1v-1.8 M564.52 629.6v1.8 M573.06 802.1v-1.8 M573.06 629.6v1.8 M581.59 802.1v-1.8 M581.59 629.6v1.8 M590.13 802.1v-1.8 M590.13 629.6v1.8 M598.66 802.1v-1.8 M598.66 629.6v1.8 M607.2 802.1v-1.8 M607.2 629.6v1.8 M393.8 802.1v-3.2 M393.8 629.6v3.2 M436.48 802.1v-3.2 M436.48 629.6v3.2 M479.16 802.1v-3.2 M479.16 629.6v3.2 M521.84 802.1v-3.2 M521.84 629.6v3.2 M564.52 802.1v-3.2 M564.52 629.6v3.2 M607.2 802.1v-3.2 M607.2 629.6v3.2 M393.8 802.1h1.8 M607.2 802.1h-1.8 M393.8 800.34h1.8 M607.2 800.34h-1.8 M393.8 798.58h1.8 M607.2 798.58h-1.8 M393.8 796.82h1.8 M607.2 796.82h-1.8 M393.8 795.06h1.8 M607.2 795.06h-1.8 M393.8 793.29h1.8 M607.2 793.29h-1.8 M393.8 791.53h1.8 M607.2 791.53h-1.8 M393.8 789.77h1.8 M607.2 789.77h-1.8 M393.8 788.01h1.8 M607.2 788.01h-1.8 M393.8 786.25h1.8 M607.2 786.25h-1.8 M393.8 784.49h1.8 M607.2 784.49h-1.8 M393.8 782.73h1.8 M607.2 782.73h-1.8 M393.8 780.97h1.8 M607.2 780.97h-1.8 M393.8 779.21h1.8 M607.2 779.21h-1.8 M393.8 777.44h1.8 M607.2 777.44h-1.8 M393.8 775.68h1.8 M607.2 775.68h-1.8 M393.8 773.92h1.8 M607.2 773.92h-1.8 M393.8 772.16h1.8 M607.2 772.16h-1.8 M393.8 770.4h1.8 M607.2 770.4h-1.8 M393.8 768.64h1.8 M607.2 768.64h-1.8 M393.8 766.88h1.8 M607.2 766.88h-1.8 M393.8 765.12h1.8 M607.2 765.12h-1.8 M393.8 763.36h1.8 M607.2 763.36h-1.8 M393.8 761.59h1.8 M607.2 761.59h-1.8 M393.8 759.83h1.8 M607.2 759.83h-1.8 M393.8 758.07h1.8 M607.2 758.07h-1.8 M393.8 756.31h1.8 M607.2 756.31h-1.8 M393.8 754.55h1.8 M607.2 754.55h-1.8 M393.8 752.79h1.8 M607.2 752.79h-1.8 M393.8 751.03h1.8 M607.2 751.03h-1.8 M393.8 749.27h1.8 M607.2 749.27h-1.8 M393.8 747.51h1.8 M607.2 747.51h-1.8 M393.8 745.74h1.8 M607.2 745.74h-1.8 M393.8 743.98h1.8 M607.2 743.98h-1.8 M393.8 742.22h1.8 M607.2 742.22h-1.8 M393.8 740.46h1.8 M607.2 740.46h-1.8 M393.8 738.7h1.8 M607.2 738.7h-1.8 M393.8 736.94h1.8 M607.2 736.94h-1.8 M393.8 735.18h1.8 M607.2 735.18h-1.8 M393.8 733.42h1.8 M607.2 733.42h-1.8 M393.8 731.66h1.8 M607.2 731.66h-1.8 M393.8 729.89h1.8 M607.2 729.89h-1.8 M393.8 728.13h1.8 M607.2 728.13h-1.8 M393.8 726.37h1.8 M607.2 726.37h-1.8 M393.8 724.61h1.8 M607.2 724.61h-1.8 M393.8 722.85h1.8 M607.2 722.85h-1.8 M393.8 721.09h1.8 M607.2 721.09h-1.8 M393.8 719.33h1.8 M607.2 719.33h-1.8 M393.8 717.57h1.8 M607.2 717.57h-1.8 M393.8 715.81h1.8 M607.2 715.81h-1.8 M393.8 714.04h1.8 M607.2 714.04h-1.8 M393.8 712.28h1.8 M607.2 712.28h-1.8 M393.8 710.52h1.8 M607.2 710.52h-1.8 M393.8 708.76h1.8 M607.2 708.76h-1.8 M393.8 707h1.8 M607.2 707h-1.8 M393.8 705.24h1.8 M607.2 705.24h-1.8 M393.8 703.48h1.8 M607.2 703.48h-1.8 M393.8 701.72h1.8 M607.2 701.72h-1.8 M393.8 699.96h1.8 M607.2 699.96h-1.8 M393.8 698.19h1.8 M607.2 698.19h-1.8 M393.8 696.43h1.8 M607.2 696.43h-1.8 M393.8 694.67h1.8 M607.2 694.67h-1.8 M393.8 692.91h1.8 M607.2 692.91h-1.8 M393.8 691.15h1.8 M607.2 691.15h-1.8 M393.8 689.39h1.8 M607.2 689.39h-1.8 M393.8 687.63h1.8 M607.2 687.63h-1.8 M393.8 685.87h1.8 M607.2 685.87h-1.8 M393.8 684.11h1.8 M607.2 684.11h-1.8 M393.8 682.35h1.8 M607.2 682.35h-1.8 M393.8 680.58h1.8 M607.2 680.58h-1.8 M393.8 678.82h1.8 M607.2 678.82h-1.8 M393.8 677.06h1.8 M607.2 677.06h-1.8 M393.8 675.3h1.8 M607.2 675.3h-1.8 M393.8 673.54h1.8 M607.2 673.54h-1.8 M393.8 671.78h1.8 M607.2 671.78h-1.8 M393.8 670.02h1.8 M607.2 670.02h-1.8 M393.8 668.26h1.8 M607.2 668.26h-1.8 M393.8 666.5h1.8 M607.2 666.5h-1.8 M393.8 664.73h1.8 M607.2 664.73h-1.8 M393.8 662.97h1.8 M607.2 662.97h-1.8 M393.8 661.21h1.8 M607.2 661.21h-1.8 M393.8 659.45h1.8 M607.2 659.45h-1.8 M393.8 657.69h1.8 M607.2 657.69h-1.8 M393.8 655.93h1.8 M607.2 655.93h-1.8 M393.8 654.17h1.8 M607.2 654.17h-1.8 M393.8 652.41h1.8 M607.2 652.41h-1.8 M393.8 650.65h1.8 M607.2 650.65h-1.8 M393.8 648.88h1.8 M607.2 648.88h-1.8 M393.8 647.12h1.8 M607.2 647.12h-1.8 M393.8 645.36h1.8 M607.2 645.36h-1.8 M393.8 643.6h1.8 M607.2 643.6h-1.8 M393.8 641.84h1.8 M607.2 641.84h-1.8 M393.8 640.08h1.8 M607.2 640.08h-1.8 M393.8 638.32h1.8 M607.2 638.32h-1.8 M393.8 636.56h1.8 M607.2 636.56h-1.8 M393.8 634.8h1.8 M607.2 634.8h-1.8 M393.8 633.03h1.8 M607.2 633.03h-1.8 M393.8 631.27h1.8 M607.2 631.27h-1.8 M393.8 802.1h3.2 M607.2 802.1h-3.2 M393.8 784.49h3.2 M607.2 784.49h-3.2 M393.8 766.88h3.2 M607.2 766.88h-3.2 M393.8 749.27h3.2 M607.2 749.27h-3.2 M393.8 731.66h3.2 M607.2 731.66h-3.2 M393.8 714.04h3.2 M607.2 714.04h-3.2 M393.8 696.43h3.2 M607.2 696.43h-3.2 M393.8 678.82h3.2 M607.2 678.82h-3.2 M393.8 661.21h3.2 M607.2 661.21h-3.2 M393.8 643.6h3.2 M607.2 643.6h-3.2" stroke="#262626" stroke-width="1" fill="none"/>
<rect x="393.8" y="629.6" width="213.4" height="172.5" fill="none" stroke="#262626" stroke-width="1.4"/>
<text x="393.8" y="814.3" font-size="9" text-anchor="middle" fill="#262626" font-family='"Liberation Sans", sans-serif'>0</text>
<text x="436.48" y="814.3" font-size="9" text-anchor="middle" fill="#262626" font-family='"Liberation Sans", sans-serif'>1000</text>
<text x="479.16" y="814.3" font-size="9" text-anchor="middle" fill="#262626" font-family='"Liberation Sans", sans-serif'>2000</text>
<text x="521.84" y="814.3" font-size="9" text-anchor="middle" fill="#262626" font-family='"Liberation Sans", sans-serif'>3000</text>
<text x="564.52" y="814.3" font-size="9" text-anchor="middle" fill="#262626" font-family='"Liberation Sans", sans-serif'>4000</text>
<text x="607.2" y="814.3" font-size="9" text-anchor="middle" fill="#262626" font-family='"Liberation Sans", sans-serif'>5000</text>
<text x="390.2" y="805.3" font-size="9" text-anchor="end" fill="#262626" font-family='"Liberation Sans", sans-serif'>0.9</text>
<text x="390.2" y="787.69" font-size="9" text-anchor="end" fill="#262626" font-family='"Liberation Sans", sans-serif'>1</text>
<text x="390.2" y="770.08" font-size="9" text-anchor="end" fill="#262626" font-family='"Liberation Sans", sans-serif'>1.1</text>
<text x="390.2" y="752.47" font-size="9" text-anchor="end" fill="#262626" font-family='"Liberation Sans", sans-serif'>1.2</text>
<text x="390.2" y="734.86" font-size="9" text-anchor="end" fill="#262626" font-family='"Liberation Sans", sans-serif'>1.3</text>
<text x="390.2" y="717.24" font-size="9" text-anchor="end" fill="#262626" font-family='"Liberation Sans", sans-serif'>1.4</text>
<text x="390.2" y="699.63" font-size="9" text-anchor="end" fill="#262626" font-family='"Liberation Sans", sans-serif'>1.5</text>
<text x="390.2" y="682.02" font-size="9" text-anchor="end" fill="#262626" font-family='"Liberation Sans", sans-serif'>1.6</text>
<text x="390.2" y="664.41" font-size="9" text-anchor="end" fill="#262626" font-family='"Liberation Sans", sans-serif'>1.7</text>
<text x="390.2" y="646.8" font-size="9" text-anchor="end" fill="#262626" font-family='"Liberation Sans", sans-serif'>1.8</text>
<text transform="translate(381.57 626) scale(1.014 1)" font-size="10.8" font-weight="bold" fill="#111" font-family='"Liberation Sans", sans-serif'>SNR vs Wire Diameter for Different Coil Turns</text>
<text transform="translate(370.2 715.6) rotate(-90)" font-size="11.5" font-weight="bold" text-anchor="middle" font-family='"Liberation Sans", sans-serif' fill="#111">SNR<tspan font-size="7.3" dy="2.2">Normalized</tspan></text>
<text x="500.2" y="827.3" font-size="11" font-weight="bold" text-anchor="middle" fill="#111" font-family='"Liberation Sans", sans-serif'>d<tspan font-size="8" dy="2.3">wire</tspan><tspan dy="-2.3" xml:space="preserve">  (</tspan><tspan font-style="italic">μ</tspan>m)</text>
<rect x="543.4" y="636.4" width="56.4" height="75.9" fill="#fff" stroke="#000" stroke-width="1.1"/>
<line x1="546.4" y1="642.8" x2="573.8" y2="642.8" stroke="#3a78c9" stroke-width="2"/>
<text x="576" y="646" font-size="9" font-weight="bold" fill="#111" font-family='"Liberation Sans", sans-serif'>n = 2</text>
<line x1="546.4" y1="653.38" x2="573.8" y2="653.38" stroke="#e05326" stroke-width="2"/>
<text x="576" y="656.58" font-size="9" font-weight="bold" fill="#111" font-family='"Liberation Sans", sans-serif'>n = 3</text>
<line x1="546.4" y1="663.96" x2="573.8" y2="663.96" stroke="#e6ad35" stroke-width="2"/>
<text x="576" y="667.16" font-size="9" font-weight="bold" fill="#111" font-family='"Liberation Sans", sans-serif'>n = 4</text>
<line x1="546.4" y1="674.54" x2="573.8" y2="674.54" stroke="#8a22f2" stroke-width="2"/>
<text x="576" y="677.74" font-size="9" font-weight="bold" fill="#111" font-family='"Liberation Sans", sans-serif'>n = 5</text>
<line x1="546.4" y1="685.12" x2="573.8" y2="685.12" stroke="#4cb83c" stroke-width="2"/>
<text x="576" y="688.32" font-size="9" font-weight="bold" fill="#111" font-family='"Liberation Sans", sans-serif'>n = 6</text>
<line x1="546.4" y1="695.7" x2="573.8" y2="695.7" stroke="#5ccbf2" stroke-width="2"/>
<text x="576" y="698.9" font-size="9" font-weight="bold" fill="#111" font-family='"Liberation Sans", sans-serif'>n = 7</text>
<line x1="546.4" y1="706.28" x2="573.8" y2="706.28" stroke="#d5339e" stroke-width="2"/>
<text x="576" y="709.48" font-size="9" font-weight="bold" fill="#111" font-family='"Liberation Sans", sans-serif'>n = 8</text>
<text transform="translate(21.2 16.15) scale(0.908 1)" font-size="25.8" font-family='"Liberation Sans", sans-serif'>a</text>
<text transform="translate(21.31 141.95) scale(1.006 1)" font-size="25.85" font-family='"Liberation Sans", sans-serif'>b</text>
<text transform="translate(345.58 134.65) scale(1.051 1)" font-size="25" font-family='"Liberation Sans", sans-serif'>c</text>
<text transform="translate(20.75 262.64) scale(1.049 1)" font-size="25.85" font-family='"Liberation Sans", sans-serif'>d</text>
<text transform="translate(344.7 261.24) scale(0.995 1)" font-size="26.1" font-family='"Liberation Sans", sans-serif'>e</text>
<text transform="translate(20.76 472.3) scale(1.139 1)" font-size="26" font-family='"Liberation Sans", sans-serif'>f</text>
<text transform="translate(13.03 641) scale(1.060 1)" font-size="26" font-family='"Liberation Sans", sans-serif'>g</text>
<text transform="translate(344.15 643.9) scale(1.067 1)" font-size="26.1" font-family='"Liberation Sans", sans-serif'>h</text>
</svg>
</body></html>
